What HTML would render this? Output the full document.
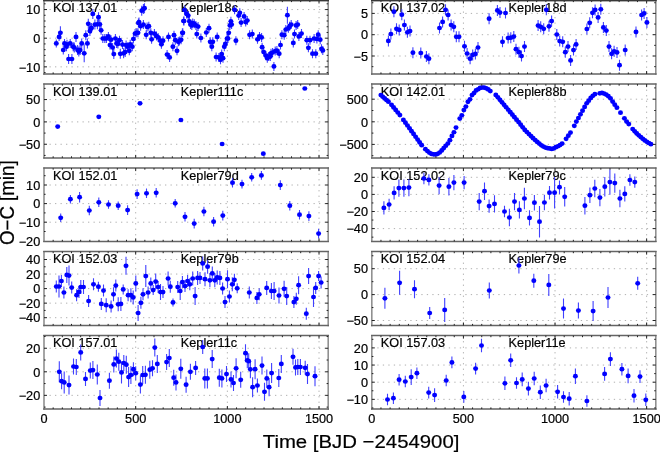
<!DOCTYPE html>
<html><head><meta charset="utf-8"><style>
html,body{margin:0;padding:0;background:#fff;}
body{width:660px;height:452px;overflow:hidden;}
svg{display:block;font-family:"Liberation Sans",sans-serif;fill:#000;}
text{stroke:#000;stroke-width:0.2px;}
svg{will-change:transform;}
</style></head><body>
<svg width="660" height="452" viewBox="0 0 660 452">
<rect width="660" height="452" fill="#fff"/>
<path d="M44 9.55H328.2 M44 38.2H328.2 M44 66.85H328.2 M135.68 0.5V74 M227.35 0.5V74 M319.03 0.5V74" stroke="#b0b0b0" stroke-width="1" stroke-dasharray="1.3 4.2" fill="none"/>
<text transform="translate(53,12.1) scale(1.06,1)" font-size="12" text-anchor="start">KOI 137.01</text>
<text transform="translate(180.8,12.1) scale(1.06,1)" font-size="12" text-anchor="start">Kepler18c</text>
<path d="M56.3 39.4V47.4 M59.1 32.9V40.9 M60.4 26.3V39.3 M63.3 45.5V54.5 M64.5 38.9V47.9 M66.5 42.2V51.2 M67 39.8V48.8 M68.6 54V64 M70.2 38.9V47.9 M71.9 54V64 M73.2 42.2V51.2 M74.3 42.5V52.5 M76 31.9V41.9 M77.6 45V55 M78.8 46.6V56.6 M80.1 45V55 M81.7 38.4V48.4 M84.2 44.3V62.3 M85.8 30.2V40.2 M87.4 38.4V48.4 M88.3 18.8V28.8 M89.9 26.1V36.1 M91.5 22.9V32.9 M92.8 8.9V18.9 M90.8 23.7V33.7 M94.9 19.6V29.6 M97.4 19.3V29.3 M98.5 12.2V22.2 M99.8 19.3V29.3 M101.1 25.8V34.8 M102.8 34V43 M104.8 34V43 M106.4 34V43 M108.4 31.9V40.9 M110 40.6V49.6 M111 35.2V44.2 M112.6 43V52 M113.8 49.1V59.1 M115.4 34V43 M116.6 38.9V47.9 M117.9 39.4V48.4 M119.5 35.7V44.7 M120.3 48.8V58.8 M122.5 40.1V49.1 M123.6 48.3V58.3 M125.2 47.1V57.1 M126.1 40.6V49.6 M127.7 42.2V51.2 M129.3 46.3V55.3 M130.2 39.8V48.8 M132.3 42.2V51.2 M133.4 34.5V43.5 M135.1 29.1V38.1 M136.7 28.3V37.3 M138.4 18.5V27.5 M138 28.3V37.3 M139 17.6V26.6 M140.6 21.7V30.7 M141.7 5.7V15.7 M143.4 4V14 M144.5 3.2V13.2 M143.4 20.1V29.1 M146.2 30.3V39.3 M147.1 22.5V31.5 M148.8 21.7V30.7 M150.8 28.3V37.3 M151.6 34.8V43.8 M154.4 29.1V38.1 M156.5 31.6V40.6 M158.1 32.9V41.9 M160.3 36.2V45.2 M161.4 39.8V48.8 M163 36.2V45.2 M167.1 50.1V59.1 M168.5 32.4V41.4 M169.6 52.9V61.9 M172.9 42.2V51.2 M174 30.7V39.7 M175.3 35.7V44.7 M177 46.3V55.3 M178.3 37.3V46.3 M179.4 36.5V45.5 M181.1 35.3V44.3 M182.4 28.3V37.3 M183.5 16.5V25.5 M184.5 5.5V14.5 M186.6 9.4V18.4 M188.2 11.1V20.1 M184 16.5V25.5 M182.8 28.3V37.3 M189.4 16.8V25.8 M190.5 20.1V29.1 M191.8 20.9V29.9 M192.7 18.5V27.5 M194.3 19.3V28.3 M195.9 20.9V29.9 M198.1 22.1V31.1 M196.8 29.6V38.6 M200.9 33.5V42.5 M206.3 28V37 M209 23.7V32.7 M210.2 37.3V46.3 M212.8 37.3V46.3 M211.8 42.2V51.2 M217.2 32.4V41.4 M216.1 52.5V61.5 M218.9 52.9V61.9 M220.5 55.3V64.3 M221.7 49.6V58.6 M223 53.7V62.7 M224.3 42.2V51.2 M225.4 39.4V48.4 M227.1 34V43 M228.7 28.3V37.3 M229.9 20.9V29.9 M230.9 16.8V25.8 M228 34V43 M231.6 20.1V29.1 M234.6 5.3V14.3 M235.9 36.2V45.2 M238.7 11.1V20.1 M239.8 8.3V17.3 M241.1 18.1V27.1 M244.1 11.9V20.9 M245.7 17.6V26.6 M247.3 16V25 M249.6 30.3V39.3 M252.3 29.6V38.6 M257.5 34.8V43.8 M259.5 31.9V40.9 M261.6 32.9V41.9 M262.1 42.7V51.7 M263.7 47.6V56.6 M266 51.2V60.2 M267.3 53.7V62.7 M268.7 52.1V61.1 M270.3 52.1V61.1 M271 48.8V57.8 M272.6 48V57 M273.9 61.9V70.9 M275.2 46.6V55.6 M276.9 46.1V55.1 M279.2 49.2V58.2 M280.5 40.5V49.5 M281.9 30.2V39.2 M284.2 30.7V39.7 M285.8 25V34 M287.4 6.7V23.7 M288.4 23.7V32.7 M289.6 21.7V30.7 M291.2 20.1V29.1 M293.3 38.4V47.4 M294.5 29.6V38.6 M296.1 20.9V29.9 M297.7 20.1V29.1 M298.9 31.9V40.9 M301.5 29.1V38.1 M306.8 35.7V44.7 M308.4 43.3V52.3 M310 35.7V44.7 M312.5 49.2V58.2 M314.1 34V43 M315.8 49.2V58.2 M316.9 34.5V43.5 M318.2 30.2V39.2 M320.2 35.2V44.2 M321.5 44.3V53.3 M322.8 45.9V54.9" stroke="#4040ff" stroke-width="1.1" fill="none"/>
<g fill="#0000ff"><ellipse cx="56.3" cy="43.4" rx="2.5" ry="2.35"/><ellipse cx="59.1" cy="36.9" rx="2.5" ry="2.35"/><ellipse cx="60.4" cy="32.8" rx="2.5" ry="2.35"/><ellipse cx="63.3" cy="50" rx="2.5" ry="2.35"/><ellipse cx="64.5" cy="43.4" rx="2.5" ry="2.35"/><ellipse cx="66.5" cy="46.7" rx="2.5" ry="2.35"/><ellipse cx="67" cy="44.3" rx="2.5" ry="2.35"/><ellipse cx="68.6" cy="59" rx="2.5" ry="2.35"/><ellipse cx="70.2" cy="43.4" rx="2.5" ry="2.35"/><ellipse cx="71.9" cy="59" rx="2.5" ry="2.35"/><ellipse cx="73.2" cy="46.7" rx="2.5" ry="2.35"/><ellipse cx="74.3" cy="47.5" rx="2.5" ry="2.35"/><ellipse cx="76" cy="36.9" rx="2.5" ry="2.35"/><ellipse cx="77.6" cy="50" rx="2.5" ry="2.35"/><ellipse cx="78.8" cy="51.6" rx="2.5" ry="2.35"/><ellipse cx="80.1" cy="50" rx="2.5" ry="2.35"/><ellipse cx="81.7" cy="43.4" rx="2.5" ry="2.35"/><ellipse cx="84.2" cy="53.3" rx="2.5" ry="2.35"/><ellipse cx="85.8" cy="35.2" rx="2.5" ry="2.35"/><ellipse cx="87.4" cy="43.4" rx="2.5" ry="2.35"/><ellipse cx="88.3" cy="23.8" rx="2.5" ry="2.35"/><ellipse cx="89.9" cy="31.1" rx="2.5" ry="2.35"/><ellipse cx="91.5" cy="27.9" rx="2.5" ry="2.35"/><ellipse cx="92.8" cy="13.9" rx="2.5" ry="2.35"/><ellipse cx="90.8" cy="28.7" rx="2.5" ry="2.35"/><ellipse cx="94.9" cy="24.6" rx="2.5" ry="2.35"/><ellipse cx="97.4" cy="24.3" rx="2.5" ry="2.35"/><ellipse cx="98.5" cy="17.2" rx="2.5" ry="2.35"/><ellipse cx="99.8" cy="24.3" rx="2.5" ry="2.35"/><ellipse cx="101.1" cy="30.3" rx="2.5" ry="2.35"/><ellipse cx="102.8" cy="38.5" rx="2.5" ry="2.35"/><ellipse cx="104.8" cy="38.5" rx="2.5" ry="2.35"/><ellipse cx="106.4" cy="38.5" rx="2.5" ry="2.35"/><ellipse cx="108.4" cy="36.4" rx="2.5" ry="2.35"/><ellipse cx="110" cy="45.1" rx="2.5" ry="2.35"/><ellipse cx="111" cy="39.7" rx="2.5" ry="2.35"/><ellipse cx="112.6" cy="47.5" rx="2.5" ry="2.35"/><ellipse cx="113.8" cy="54.1" rx="2.5" ry="2.35"/><ellipse cx="115.4" cy="38.5" rx="2.5" ry="2.35"/><ellipse cx="116.6" cy="43.4" rx="2.5" ry="2.35"/><ellipse cx="117.9" cy="43.9" rx="2.5" ry="2.35"/><ellipse cx="119.5" cy="40.2" rx="2.5" ry="2.35"/><ellipse cx="120.3" cy="53.8" rx="2.5" ry="2.35"/><ellipse cx="122.5" cy="44.6" rx="2.5" ry="2.35"/><ellipse cx="123.6" cy="53.3" rx="2.5" ry="2.35"/><ellipse cx="125.2" cy="52.1" rx="2.5" ry="2.35"/><ellipse cx="126.1" cy="45.1" rx="2.5" ry="2.35"/><ellipse cx="127.7" cy="46.7" rx="2.5" ry="2.35"/><ellipse cx="129.3" cy="50.8" rx="2.5" ry="2.35"/><ellipse cx="130.2" cy="44.3" rx="2.5" ry="2.35"/><ellipse cx="132.3" cy="46.7" rx="2.5" ry="2.35"/><ellipse cx="133.4" cy="39" rx="2.5" ry="2.35"/><ellipse cx="135.1" cy="33.6" rx="2.5" ry="2.35"/><ellipse cx="136.7" cy="32.8" rx="2.5" ry="2.35"/><ellipse cx="138.4" cy="23" rx="2.5" ry="2.35"/><ellipse cx="138" cy="32.8" rx="2.5" ry="2.35"/><ellipse cx="139" cy="22.1" rx="2.5" ry="2.35"/><ellipse cx="140.6" cy="26.2" rx="2.5" ry="2.35"/><ellipse cx="141.7" cy="10.7" rx="2.5" ry="2.35"/><ellipse cx="143.4" cy="9" rx="2.5" ry="2.35"/><ellipse cx="144.5" cy="8.2" rx="2.5" ry="2.35"/><ellipse cx="143.4" cy="24.6" rx="2.5" ry="2.35"/><ellipse cx="146.2" cy="34.8" rx="2.5" ry="2.35"/><ellipse cx="147.1" cy="27" rx="2.5" ry="2.35"/><ellipse cx="148.8" cy="26.2" rx="2.5" ry="2.35"/><ellipse cx="150.8" cy="32.8" rx="2.5" ry="2.35"/><ellipse cx="151.6" cy="39.3" rx="2.5" ry="2.35"/><ellipse cx="154.4" cy="33.6" rx="2.5" ry="2.35"/><ellipse cx="156.5" cy="36.1" rx="2.5" ry="2.35"/><ellipse cx="158.1" cy="37.4" rx="2.5" ry="2.35"/><ellipse cx="160.3" cy="40.7" rx="2.5" ry="2.35"/><ellipse cx="161.4" cy="44.3" rx="2.5" ry="2.35"/><ellipse cx="163" cy="40.7" rx="2.5" ry="2.35"/><ellipse cx="167.1" cy="54.6" rx="2.5" ry="2.35"/><ellipse cx="168.5" cy="36.9" rx="2.5" ry="2.35"/><ellipse cx="169.6" cy="57.4" rx="2.5" ry="2.35"/><ellipse cx="172.9" cy="46.7" rx="2.5" ry="2.35"/><ellipse cx="174" cy="35.2" rx="2.5" ry="2.35"/><ellipse cx="175.3" cy="40.2" rx="2.5" ry="2.35"/><ellipse cx="177" cy="50.8" rx="2.5" ry="2.35"/><ellipse cx="178.3" cy="41.8" rx="2.5" ry="2.35"/><ellipse cx="179.4" cy="41" rx="2.5" ry="2.35"/><ellipse cx="181.1" cy="39.8" rx="2.5" ry="2.35"/><ellipse cx="182.4" cy="32.8" rx="2.5" ry="2.35"/><ellipse cx="183.5" cy="21" rx="2.5" ry="2.35"/><ellipse cx="184.5" cy="10" rx="2.5" ry="2.35"/><ellipse cx="186.6" cy="13.9" rx="2.5" ry="2.35"/><ellipse cx="188.2" cy="15.6" rx="2.5" ry="2.35"/><ellipse cx="184" cy="21" rx="2.5" ry="2.35"/><ellipse cx="182.8" cy="32.8" rx="2.5" ry="2.35"/><ellipse cx="189.4" cy="21.3" rx="2.5" ry="2.35"/><ellipse cx="190.5" cy="24.6" rx="2.5" ry="2.35"/><ellipse cx="191.8" cy="25.4" rx="2.5" ry="2.35"/><ellipse cx="192.7" cy="23" rx="2.5" ry="2.35"/><ellipse cx="194.3" cy="23.8" rx="2.5" ry="2.35"/><ellipse cx="195.9" cy="25.4" rx="2.5" ry="2.35"/><ellipse cx="198.1" cy="26.6" rx="2.5" ry="2.35"/><ellipse cx="196.8" cy="34.1" rx="2.5" ry="2.35"/><ellipse cx="200.9" cy="38" rx="2.5" ry="2.35"/><ellipse cx="206.3" cy="32.5" rx="2.5" ry="2.35"/><ellipse cx="209" cy="28.2" rx="2.5" ry="2.35"/><ellipse cx="210.2" cy="41.8" rx="2.5" ry="2.35"/><ellipse cx="212.8" cy="41.8" rx="2.5" ry="2.35"/><ellipse cx="211.8" cy="46.7" rx="2.5" ry="2.35"/><ellipse cx="217.2" cy="36.9" rx="2.5" ry="2.35"/><ellipse cx="216.1" cy="57" rx="2.5" ry="2.35"/><ellipse cx="218.9" cy="57.4" rx="2.5" ry="2.35"/><ellipse cx="220.5" cy="59.8" rx="2.5" ry="2.35"/><ellipse cx="221.7" cy="54.1" rx="2.5" ry="2.35"/><ellipse cx="223" cy="58.2" rx="2.5" ry="2.35"/><ellipse cx="224.3" cy="46.7" rx="2.5" ry="2.35"/><ellipse cx="225.4" cy="43.9" rx="2.5" ry="2.35"/><ellipse cx="227.1" cy="38.5" rx="2.5" ry="2.35"/><ellipse cx="228.7" cy="32.8" rx="2.5" ry="2.35"/><ellipse cx="229.9" cy="25.4" rx="2.5" ry="2.35"/><ellipse cx="230.9" cy="21.3" rx="2.5" ry="2.35"/><ellipse cx="228" cy="38.5" rx="2.5" ry="2.35"/><ellipse cx="231.6" cy="24.6" rx="2.5" ry="2.35"/><ellipse cx="234.6" cy="9.8" rx="2.5" ry="2.35"/><ellipse cx="235.9" cy="40.7" rx="2.5" ry="2.35"/><ellipse cx="238.7" cy="15.6" rx="2.5" ry="2.35"/><ellipse cx="239.8" cy="12.8" rx="2.5" ry="2.35"/><ellipse cx="241.1" cy="22.6" rx="2.5" ry="2.35"/><ellipse cx="244.1" cy="16.4" rx="2.5" ry="2.35"/><ellipse cx="245.7" cy="22.1" rx="2.5" ry="2.35"/><ellipse cx="247.3" cy="20.5" rx="2.5" ry="2.35"/><ellipse cx="249.6" cy="34.8" rx="2.5" ry="2.35"/><ellipse cx="252.3" cy="34.1" rx="2.5" ry="2.35"/><ellipse cx="257.5" cy="39.3" rx="2.5" ry="2.35"/><ellipse cx="259.5" cy="36.4" rx="2.5" ry="2.35"/><ellipse cx="261.6" cy="37.4" rx="2.5" ry="2.35"/><ellipse cx="262.1" cy="47.2" rx="2.5" ry="2.35"/><ellipse cx="263.7" cy="52.1" rx="2.5" ry="2.35"/><ellipse cx="266" cy="55.7" rx="2.5" ry="2.35"/><ellipse cx="267.3" cy="58.2" rx="2.5" ry="2.35"/><ellipse cx="268.7" cy="56.6" rx="2.5" ry="2.35"/><ellipse cx="270.3" cy="56.6" rx="2.5" ry="2.35"/><ellipse cx="271" cy="53.3" rx="2.5" ry="2.35"/><ellipse cx="272.6" cy="52.5" rx="2.5" ry="2.35"/><ellipse cx="273.9" cy="66.4" rx="2.5" ry="2.35"/><ellipse cx="275.2" cy="51.1" rx="2.5" ry="2.35"/><ellipse cx="276.9" cy="50.6" rx="2.5" ry="2.35"/><ellipse cx="279.2" cy="53.7" rx="2.5" ry="2.35"/><ellipse cx="280.5" cy="45" rx="2.5" ry="2.35"/><ellipse cx="281.9" cy="34.7" rx="2.5" ry="2.35"/><ellipse cx="284.2" cy="35.2" rx="2.5" ry="2.35"/><ellipse cx="285.8" cy="29.5" rx="2.5" ry="2.35"/><ellipse cx="287.4" cy="15.2" rx="2.5" ry="2.35"/><ellipse cx="288.4" cy="28.2" rx="2.5" ry="2.35"/><ellipse cx="289.6" cy="26.2" rx="2.5" ry="2.35"/><ellipse cx="291.2" cy="24.6" rx="2.5" ry="2.35"/><ellipse cx="293.3" cy="42.9" rx="2.5" ry="2.35"/><ellipse cx="294.5" cy="34.1" rx="2.5" ry="2.35"/><ellipse cx="296.1" cy="25.4" rx="2.5" ry="2.35"/><ellipse cx="297.7" cy="24.6" rx="2.5" ry="2.35"/><ellipse cx="298.9" cy="36.4" rx="2.5" ry="2.35"/><ellipse cx="301.5" cy="33.6" rx="2.5" ry="2.35"/><ellipse cx="306.8" cy="40.2" rx="2.5" ry="2.35"/><ellipse cx="308.4" cy="47.8" rx="2.5" ry="2.35"/><ellipse cx="310" cy="40.2" rx="2.5" ry="2.35"/><ellipse cx="312.5" cy="53.7" rx="2.5" ry="2.35"/><ellipse cx="314.1" cy="38.5" rx="2.5" ry="2.35"/><ellipse cx="315.8" cy="53.7" rx="2.5" ry="2.35"/><ellipse cx="316.9" cy="39" rx="2.5" ry="2.35"/><ellipse cx="318.2" cy="34.7" rx="2.5" ry="2.35"/><ellipse cx="320.2" cy="39.7" rx="2.5" ry="2.35"/><ellipse cx="321.5" cy="48.8" rx="2.5" ry="2.35"/><ellipse cx="322.8" cy="50.4" rx="2.5" ry="2.35"/></g>
<path d="M44 -0.2V74.7M328.2 -0.2V74.7" stroke="#909090" stroke-width="1.6"/>
<path d="M43.2 0.5H329M43.2 74H329" stroke="#646464" stroke-width="1.5"/>
<path d="M44 72.58h1.6M328.2 72.58h-1.6 M44 66.85h3.0M328.2 66.85h-3.0 M44 61.12h1.6M328.2 61.12h-1.6 M44 55.39h1.6M328.2 55.39h-1.6 M44 49.66h1.6M328.2 49.66h-1.6 M44 43.93h1.6M328.2 43.93h-1.6 M44 38.2h3.0M328.2 38.2h-3.0 M44 32.47h1.6M328.2 32.47h-1.6 M44 26.74h1.6M328.2 26.74h-1.6 M44 21.01h1.6M328.2 21.01h-1.6 M44 15.28h1.6M328.2 15.28h-1.6 M44 9.55h3.0M328.2 9.55h-3.0 M44 3.82h1.6M328.2 3.82h-1.6 M53.17 74v-1.6M53.17 0.5v1.6 M62.34 74v-1.6M62.34 0.5v1.6 M71.5 74v-1.6M71.5 0.5v1.6 M80.67 74v-1.6M80.67 0.5v1.6 M89.84 74v-1.6M89.84 0.5v1.6 M99.01 74v-1.6M99.01 0.5v1.6 M108.17 74v-1.6M108.17 0.5v1.6 M117.34 74v-1.6M117.34 0.5v1.6 M126.51 74v-1.6M126.51 0.5v1.6 M135.68 74v-3.0M135.68 0.5v3.0 M144.85 74v-1.6M144.85 0.5v1.6 M154.01 74v-1.6M154.01 0.5v1.6 M163.18 74v-1.6M163.18 0.5v1.6 M172.35 74v-1.6M172.35 0.5v1.6 M181.52 74v-1.6M181.52 0.5v1.6 M190.68 74v-1.6M190.68 0.5v1.6 M199.85 74v-1.6M199.85 0.5v1.6 M209.02 74v-1.6M209.02 0.5v1.6 M218.19 74v-1.6M218.19 0.5v1.6 M227.35 74v-3.0M227.35 0.5v3.0 M236.52 74v-1.6M236.52 0.5v1.6 M245.69 74v-1.6M245.69 0.5v1.6 M254.86 74v-1.6M254.86 0.5v1.6 M264.03 74v-1.6M264.03 0.5v1.6 M273.19 74v-1.6M273.19 0.5v1.6 M282.36 74v-1.6M282.36 0.5v1.6 M291.53 74v-1.6M291.53 0.5v1.6 M300.7 74v-1.6M300.7 0.5v1.6 M309.86 74v-1.6M309.86 0.5v1.6 M319.03 74v-3.0M319.03 0.5v3.0" stroke="#222" stroke-width="1" fill="none"/>
<path d="M43.2 0.5H329" stroke="#383838" stroke-width="1.3"/>
<text transform="translate(40.2,14.25) scale(1.06,1)" font-size="12" text-anchor="end">10</text>
<text transform="translate(40.2,42.9) scale(1.06,1)" font-size="12" text-anchor="end">0</text>
<text transform="translate(40.2,71.55) scale(1.06,1)" font-size="12" text-anchor="end">−10</text>
<path d="M44 99.55H328.2 M44 121.9H328.2 M44 144.25H328.2 M135.68 84.1V157.9 M227.35 84.1V157.9 M319.03 84.1V157.9" stroke="#b0b0b0" stroke-width="1" stroke-dasharray="1.3 4.2" fill="none"/>
<text transform="translate(53,95.7) scale(1.06,1)" font-size="12" text-anchor="start">KOI 139.01</text>
<text transform="translate(180.8,95.7) scale(1.06,1)" font-size="12" text-anchor="start">Kepler111c</text>
<g fill="#0000ff"><ellipse cx="57.7" cy="126.6" rx="2.5" ry="2.35"/><ellipse cx="98.8" cy="116.8" rx="2.5" ry="2.35"/><ellipse cx="140" cy="103.3" rx="2.5" ry="2.35"/><ellipse cx="180.9" cy="120" rx="2.5" ry="2.35"/><ellipse cx="222.1" cy="144" rx="2.5" ry="2.35"/><ellipse cx="263.3" cy="153.7" rx="2.5" ry="2.35"/><ellipse cx="304.8" cy="88.5" rx="2.5" ry="2.35"/></g>
<path d="M44 83.4V158.6M328.2 83.4V158.6" stroke="#909090" stroke-width="1.6"/>
<path d="M43.2 84.1H329M43.2 157.9H329" stroke="#646464" stroke-width="1.5"/>
<path d="M44 155.43h1.6M328.2 155.43h-1.6 M44 144.25h3.0M328.2 144.25h-3.0 M44 133.08h1.6M328.2 133.08h-1.6 M44 121.9h3.0M328.2 121.9h-3.0 M44 110.73h1.6M328.2 110.73h-1.6 M44 99.55h3.0M328.2 99.55h-3.0 M44 88.38h1.6M328.2 88.38h-1.6 M53.17 157.9v-1.6M53.17 84.1v1.6 M62.34 157.9v-1.6M62.34 84.1v1.6 M71.5 157.9v-1.6M71.5 84.1v1.6 M80.67 157.9v-1.6M80.67 84.1v1.6 M89.84 157.9v-1.6M89.84 84.1v1.6 M99.01 157.9v-1.6M99.01 84.1v1.6 M108.17 157.9v-1.6M108.17 84.1v1.6 M117.34 157.9v-1.6M117.34 84.1v1.6 M126.51 157.9v-1.6M126.51 84.1v1.6 M135.68 157.9v-3.0M135.68 84.1v3.0 M144.85 157.9v-1.6M144.85 84.1v1.6 M154.01 157.9v-1.6M154.01 84.1v1.6 M163.18 157.9v-1.6M163.18 84.1v1.6 M172.35 157.9v-1.6M172.35 84.1v1.6 M181.52 157.9v-1.6M181.52 84.1v1.6 M190.68 157.9v-1.6M190.68 84.1v1.6 M199.85 157.9v-1.6M199.85 84.1v1.6 M209.02 157.9v-1.6M209.02 84.1v1.6 M218.19 157.9v-1.6M218.19 84.1v1.6 M227.35 157.9v-3.0M227.35 84.1v3.0 M236.52 157.9v-1.6M236.52 84.1v1.6 M245.69 157.9v-1.6M245.69 84.1v1.6 M254.86 157.9v-1.6M254.86 84.1v1.6 M264.03 157.9v-1.6M264.03 84.1v1.6 M273.19 157.9v-1.6M273.19 84.1v1.6 M282.36 157.9v-1.6M282.36 84.1v1.6 M291.53 157.9v-1.6M291.53 84.1v1.6 M300.7 157.9v-1.6M300.7 84.1v1.6 M309.86 157.9v-1.6M309.86 84.1v1.6 M319.03 157.9v-3.0M319.03 84.1v3.0" stroke="#222" stroke-width="1" fill="none"/>
<text transform="translate(40.2,104.25) scale(1.06,1)" font-size="12" text-anchor="end">50</text>
<text transform="translate(40.2,126.6) scale(1.06,1)" font-size="12" text-anchor="end">0</text>
<text transform="translate(40.2,148.95) scale(1.06,1)" font-size="12" text-anchor="end">−50</text>
<path d="M44 185H328.2 M44 203.6H328.2 M44 222.2H328.2 M135.68 168.1V241.4 M227.35 168.1V241.4 M319.03 168.1V241.4" stroke="#b0b0b0" stroke-width="1" stroke-dasharray="1.3 4.2" fill="none"/>
<text transform="translate(53,179.7) scale(1.06,1)" font-size="12" text-anchor="start">KOI 152.01</text>
<text transform="translate(180.8,179.7) scale(1.06,1)" font-size="12" text-anchor="start">Kepler79d</text>
<path d="M60.7 213.5V222.1 M70.4 194.9V203.5 M79.6 191.9V202.5 M89.3 205.7V215.3 M98.8 197.5V207.1 M108.5 200.2V208.8 M118.2 201.4V210 M127.6 205.3V214.9 M137.1 189.3V198.9 M146.5 188.5V198.1 M156.2 188V197.6 M175.2 199V207.6 M185 212V221.6 M194.2 218.8V228.4 M203.9 206.7V216.3 M213.6 216.9V226.5 M222.8 210.8V220.4 M232.5 177.9V187.5 M242 179.8V188.4 M251.7 173V181.6 M261.4 171.1V179.7 M280.3 180.3V189.9 M289.8 200.9V210.5 M299.5 209.9V219.5 M308.9 211.3V220.9 M318.6 228.8V238.4" stroke="#4040ff" stroke-width="1.1" fill="none"/>
<g fill="#0000ff"><ellipse cx="60.7" cy="217.8" rx="2.5" ry="2.35"/><ellipse cx="70.4" cy="199.2" rx="2.5" ry="2.35"/><ellipse cx="79.6" cy="197.2" rx="2.5" ry="2.35"/><ellipse cx="89.3" cy="210.5" rx="2.5" ry="2.35"/><ellipse cx="98.8" cy="202.3" rx="2.5" ry="2.35"/><ellipse cx="108.5" cy="204.5" rx="2.5" ry="2.35"/><ellipse cx="118.2" cy="205.7" rx="2.5" ry="2.35"/><ellipse cx="127.6" cy="210.1" rx="2.5" ry="2.35"/><ellipse cx="137.1" cy="194.1" rx="2.5" ry="2.35"/><ellipse cx="146.5" cy="193.3" rx="2.5" ry="2.35"/><ellipse cx="156.2" cy="192.8" rx="2.5" ry="2.35"/><ellipse cx="175.2" cy="203.3" rx="2.5" ry="2.35"/><ellipse cx="185" cy="216.8" rx="2.5" ry="2.35"/><ellipse cx="194.2" cy="223.6" rx="2.5" ry="2.35"/><ellipse cx="203.9" cy="211.5" rx="2.5" ry="2.35"/><ellipse cx="213.6" cy="221.7" rx="2.5" ry="2.35"/><ellipse cx="222.8" cy="215.6" rx="2.5" ry="2.35"/><ellipse cx="232.5" cy="182.7" rx="2.5" ry="2.35"/><ellipse cx="242" cy="184.1" rx="2.5" ry="2.35"/><ellipse cx="251.7" cy="177.3" rx="2.5" ry="2.35"/><ellipse cx="261.4" cy="175.4" rx="2.5" ry="2.35"/><ellipse cx="280.3" cy="185.1" rx="2.5" ry="2.35"/><ellipse cx="289.8" cy="205.7" rx="2.5" ry="2.35"/><ellipse cx="299.5" cy="214.7" rx="2.5" ry="2.35"/><ellipse cx="308.9" cy="216.1" rx="2.5" ry="2.35"/><ellipse cx="318.6" cy="233.6" rx="2.5" ry="2.35"/></g>
<path d="M44 167.4V242.1M328.2 167.4V242.1" stroke="#909090" stroke-width="1.6"/>
<path d="M43.2 168.1H329M43.2 241.4H329" stroke="#646464" stroke-width="1.5"/>
<path d="M44 231.5h1.6M328.2 231.5h-1.6 M44 222.2h3.0M328.2 222.2h-3.0 M44 212.9h1.6M328.2 212.9h-1.6 M44 203.6h3.0M328.2 203.6h-3.0 M44 194.3h1.6M328.2 194.3h-1.6 M44 185h3.0M328.2 185h-3.0 M44 175.7h1.6M328.2 175.7h-1.6 M53.17 241.4v-1.6M53.17 168.1v1.6 M62.34 241.4v-1.6M62.34 168.1v1.6 M71.5 241.4v-1.6M71.5 168.1v1.6 M80.67 241.4v-1.6M80.67 168.1v1.6 M89.84 241.4v-1.6M89.84 168.1v1.6 M99.01 241.4v-1.6M99.01 168.1v1.6 M108.17 241.4v-1.6M108.17 168.1v1.6 M117.34 241.4v-1.6M117.34 168.1v1.6 M126.51 241.4v-1.6M126.51 168.1v1.6 M135.68 241.4v-3.0M135.68 168.1v3.0 M144.85 241.4v-1.6M144.85 168.1v1.6 M154.01 241.4v-1.6M154.01 168.1v1.6 M163.18 241.4v-1.6M163.18 168.1v1.6 M172.35 241.4v-1.6M172.35 168.1v1.6 M181.52 241.4v-1.6M181.52 168.1v1.6 M190.68 241.4v-1.6M190.68 168.1v1.6 M199.85 241.4v-1.6M199.85 168.1v1.6 M209.02 241.4v-1.6M209.02 168.1v1.6 M218.19 241.4v-1.6M218.19 168.1v1.6 M227.35 241.4v-3.0M227.35 168.1v3.0 M236.52 241.4v-1.6M236.52 168.1v1.6 M245.69 241.4v-1.6M245.69 168.1v1.6 M254.86 241.4v-1.6M254.86 168.1v1.6 M264.03 241.4v-1.6M264.03 168.1v1.6 M273.19 241.4v-1.6M273.19 168.1v1.6 M282.36 241.4v-1.6M282.36 168.1v1.6 M291.53 241.4v-1.6M291.53 168.1v1.6 M300.7 241.4v-1.6M300.7 168.1v1.6 M309.86 241.4v-1.6M309.86 168.1v1.6 M319.03 241.4v-3.0M319.03 168.1v3.0" stroke="#222" stroke-width="1" fill="none"/>
<text transform="translate(40.2,189.7) scale(1.06,1)" font-size="12" text-anchor="end">10</text>
<text transform="translate(40.2,208.3) scale(1.06,1)" font-size="12" text-anchor="end">0</text>
<text transform="translate(40.2,226.9) scale(1.06,1)" font-size="12" text-anchor="end">−10</text>
<text transform="translate(40.2,245.5) scale(1.06,1)" font-size="12" text-anchor="end">−20</text>
<path d="M44 259.5H328.2 M44 274.05H328.2 M44 288.6H328.2 M44 303.15H328.2 M44 317.7H328.2 M135.68 251.6V325.5 M227.35 251.6V325.5 M319.03 251.6V325.5" stroke="#b0b0b0" stroke-width="1" stroke-dasharray="1.3 4.2" fill="none"/>
<text transform="translate(53,263.2) scale(1.06,1)" font-size="12" text-anchor="start">KOI 152.03</text>
<text transform="translate(180.8,263.2) scale(1.06,1)" font-size="12" text-anchor="start">Kepler79b</text>
<path d="M56.3 280.5V292.5 M59 275.5V297.5 M61.4 275V287 M63.9 286.5V298.5 M66.8 266.9V282.9 M69 265.6V285.6 M71.7 281.6V293.6 M76.6 289.2V301.2 M79 285.9V297.9 M80.8 280V294 M83.5 280V294 M88.6 295V307 M93.5 278.3V290.3 M98.4 281.7V291.7 M101.3 297.9V309.9 M103.5 284.6V296.6 M106.2 298.2V312.2 M111.1 300.4V312.4 M113.5 287.3V301.3 M115.8 279.6V291.6 M118.2 297.3V311.3 M120.9 296.9V310.9 M123.2 284.4V294.4 M126 256.8V274.8 M128.1 289.2V301.2 M130.9 288.2V302.2 M133.2 290.4V304.4 M135.8 275.4V291.4 M138.1 305V321 M140.9 296.8V308.8 M143 288.3V300.3 M145.8 265.1V287.1 M148.1 286.5V298.5 M150.8 277.4V289.4 M153.2 285.1V295.1 M155.7 273.6V289.6 M158.1 281V293 M160.5 284.1V300.1 M163 286.1V298.1 M168.1 271.5V285.5 M170.3 280.7V292.7 M173 298.4V306.4 M177.7 281V293 M180.2 282V300 M182.4 276.1V288.1 M185 280.1V292.1 M187.6 275V287 M189.8 278.3V290.3 M192.7 271.5V285.5 M195.1 287.1V305.1 M197.6 270.9V284.9 M200 271.9V283.9 M202.7 256.4V270.4 M205 272.2V286.2 M207.6 259.7V273.7 M209.9 273.3V287.3 M212.3 266.4V280.4 M214.8 273.3V287.3 M217.2 270.4V284.4 M219.9 270.9V284.9 M222.6 282.5V294.5 M225 296.1V308.1 M227.5 270.2V288.2 M229.4 290.5V302.5 M232.3 277.3V291.3 M234.4 273.8V285.8 M237.2 283.3V293.3 M249.3 286.5V298.5 M256.9 291.9V303.9 M259.2 288.3V300.3 M266.7 280.9V294.9 M271.4 283V299 M274.1 282V300 M279 287.5V303.5 M284.1 280.8V296.8 M286.7 287.1V305.1 M293.9 296.1V308.1 M296.3 292.8V304.8 M298.6 276.2V294.2 M306.3 307.7V319.7 M308.6 268.1V284.1 M313.5 287V307 M315.7 281.9V293.9 M318.6 271.1V281.1 M321.1 276.5V288.5" stroke="#4040ff" stroke-width="1.1" fill="none"/>
<g fill="#0000ff"><ellipse cx="56.3" cy="286.5" rx="2.5" ry="2.35"/><ellipse cx="59" cy="286.5" rx="2.5" ry="2.35"/><ellipse cx="61.4" cy="281" rx="2.5" ry="2.35"/><ellipse cx="63.9" cy="292.5" rx="2.5" ry="2.35"/><ellipse cx="66.8" cy="274.9" rx="2.5" ry="2.35"/><ellipse cx="69" cy="275.6" rx="2.5" ry="2.35"/><ellipse cx="71.7" cy="287.6" rx="2.5" ry="2.35"/><ellipse cx="76.6" cy="295.2" rx="2.5" ry="2.35"/><ellipse cx="79" cy="291.9" rx="2.5" ry="2.35"/><ellipse cx="80.8" cy="287" rx="2.5" ry="2.35"/><ellipse cx="83.5" cy="287" rx="2.5" ry="2.35"/><ellipse cx="88.6" cy="301" rx="2.5" ry="2.35"/><ellipse cx="93.5" cy="284.3" rx="2.5" ry="2.35"/><ellipse cx="98.4" cy="286.7" rx="2.5" ry="2.35"/><ellipse cx="101.3" cy="303.9" rx="2.5" ry="2.35"/><ellipse cx="103.5" cy="290.6" rx="2.5" ry="2.35"/><ellipse cx="106.2" cy="305.2" rx="2.5" ry="2.35"/><ellipse cx="111.1" cy="306.4" rx="2.5" ry="2.35"/><ellipse cx="113.5" cy="294.3" rx="2.5" ry="2.35"/><ellipse cx="115.8" cy="285.6" rx="2.5" ry="2.35"/><ellipse cx="118.2" cy="304.3" rx="2.5" ry="2.35"/><ellipse cx="120.9" cy="303.9" rx="2.5" ry="2.35"/><ellipse cx="123.2" cy="289.4" rx="2.5" ry="2.35"/><ellipse cx="126" cy="265.8" rx="2.5" ry="2.35"/><ellipse cx="128.1" cy="295.2" rx="2.5" ry="2.35"/><ellipse cx="130.9" cy="295.2" rx="2.5" ry="2.35"/><ellipse cx="133.2" cy="297.4" rx="2.5" ry="2.35"/><ellipse cx="135.8" cy="283.4" rx="2.5" ry="2.35"/><ellipse cx="138.1" cy="313" rx="2.5" ry="2.35"/><ellipse cx="140.9" cy="302.8" rx="2.5" ry="2.35"/><ellipse cx="143" cy="294.3" rx="2.5" ry="2.35"/><ellipse cx="145.8" cy="276.1" rx="2.5" ry="2.35"/><ellipse cx="148.1" cy="292.5" rx="2.5" ry="2.35"/><ellipse cx="150.8" cy="283.4" rx="2.5" ry="2.35"/><ellipse cx="153.2" cy="290.1" rx="2.5" ry="2.35"/><ellipse cx="155.7" cy="281.6" rx="2.5" ry="2.35"/><ellipse cx="158.1" cy="287" rx="2.5" ry="2.35"/><ellipse cx="160.5" cy="292.1" rx="2.5" ry="2.35"/><ellipse cx="163" cy="292.1" rx="2.5" ry="2.35"/><ellipse cx="168.1" cy="278.5" rx="2.5" ry="2.35"/><ellipse cx="170.3" cy="286.7" rx="2.5" ry="2.35"/><ellipse cx="173" cy="302.4" rx="2.5" ry="2.35"/><ellipse cx="177.7" cy="287" rx="2.5" ry="2.35"/><ellipse cx="180.2" cy="291" rx="2.5" ry="2.35"/><ellipse cx="182.4" cy="282.1" rx="2.5" ry="2.35"/><ellipse cx="185" cy="286.1" rx="2.5" ry="2.35"/><ellipse cx="187.6" cy="281" rx="2.5" ry="2.35"/><ellipse cx="189.8" cy="284.3" rx="2.5" ry="2.35"/><ellipse cx="192.7" cy="278.5" rx="2.5" ry="2.35"/><ellipse cx="195.1" cy="296.1" rx="2.5" ry="2.35"/><ellipse cx="197.6" cy="277.9" rx="2.5" ry="2.35"/><ellipse cx="200" cy="277.9" rx="2.5" ry="2.35"/><ellipse cx="202.7" cy="263.4" rx="2.5" ry="2.35"/><ellipse cx="205" cy="279.2" rx="2.5" ry="2.35"/><ellipse cx="207.6" cy="266.7" rx="2.5" ry="2.35"/><ellipse cx="209.9" cy="280.3" rx="2.5" ry="2.35"/><ellipse cx="212.3" cy="273.4" rx="2.5" ry="2.35"/><ellipse cx="214.8" cy="280.3" rx="2.5" ry="2.35"/><ellipse cx="217.2" cy="277.4" rx="2.5" ry="2.35"/><ellipse cx="219.9" cy="277.9" rx="2.5" ry="2.35"/><ellipse cx="222.6" cy="288.5" rx="2.5" ry="2.35"/><ellipse cx="225" cy="302.1" rx="2.5" ry="2.35"/><ellipse cx="227.5" cy="279.2" rx="2.5" ry="2.35"/><ellipse cx="229.4" cy="296.5" rx="2.5" ry="2.35"/><ellipse cx="232.3" cy="284.3" rx="2.5" ry="2.35"/><ellipse cx="234.4" cy="279.8" rx="2.5" ry="2.35"/><ellipse cx="237.2" cy="288.3" rx="2.5" ry="2.35"/><ellipse cx="249.3" cy="292.5" rx="2.5" ry="2.35"/><ellipse cx="256.9" cy="297.9" rx="2.5" ry="2.35"/><ellipse cx="259.2" cy="294.3" rx="2.5" ry="2.35"/><ellipse cx="266.7" cy="287.9" rx="2.5" ry="2.35"/><ellipse cx="271.4" cy="291" rx="2.5" ry="2.35"/><ellipse cx="274.1" cy="291" rx="2.5" ry="2.35"/><ellipse cx="279" cy="295.5" rx="2.5" ry="2.35"/><ellipse cx="284.1" cy="288.8" rx="2.5" ry="2.35"/><ellipse cx="286.7" cy="296.1" rx="2.5" ry="2.35"/><ellipse cx="293.9" cy="302.1" rx="2.5" ry="2.35"/><ellipse cx="296.3" cy="298.8" rx="2.5" ry="2.35"/><ellipse cx="298.6" cy="285.2" rx="2.5" ry="2.35"/><ellipse cx="306.3" cy="313.7" rx="2.5" ry="2.35"/><ellipse cx="308.6" cy="276.1" rx="2.5" ry="2.35"/><ellipse cx="313.5" cy="297" rx="2.5" ry="2.35"/><ellipse cx="315.7" cy="287.9" rx="2.5" ry="2.35"/><ellipse cx="318.6" cy="276.1" rx="2.5" ry="2.35"/><ellipse cx="321.1" cy="282.5" rx="2.5" ry="2.35"/></g>
<path d="M44 250.9V326.2M328.2 250.9V326.2" stroke="#909090" stroke-width="1.6"/>
<path d="M43.2 251.6H329M43.2 325.5H329" stroke="#646464" stroke-width="1.5"/>
<path d="M44 317.7h3.0M328.2 317.7h-3.0 M44 310.43h1.6M328.2 310.43h-1.6 M44 303.15h3.0M328.2 303.15h-3.0 M44 295.88h1.6M328.2 295.88h-1.6 M44 288.6h3.0M328.2 288.6h-3.0 M44 281.33h1.6M328.2 281.33h-1.6 M44 274.05h3.0M328.2 274.05h-3.0 M44 266.78h1.6M328.2 266.78h-1.6 M44 259.5h3.0M328.2 259.5h-3.0 M53.17 325.5v-1.6M53.17 251.6v1.6 M62.34 325.5v-1.6M62.34 251.6v1.6 M71.5 325.5v-1.6M71.5 251.6v1.6 M80.67 325.5v-1.6M80.67 251.6v1.6 M89.84 325.5v-1.6M89.84 251.6v1.6 M99.01 325.5v-1.6M99.01 251.6v1.6 M108.17 325.5v-1.6M108.17 251.6v1.6 M117.34 325.5v-1.6M117.34 251.6v1.6 M126.51 325.5v-1.6M126.51 251.6v1.6 M135.68 325.5v-3.0M135.68 251.6v3.0 M144.85 325.5v-1.6M144.85 251.6v1.6 M154.01 325.5v-1.6M154.01 251.6v1.6 M163.18 325.5v-1.6M163.18 251.6v1.6 M172.35 325.5v-1.6M172.35 251.6v1.6 M181.52 325.5v-1.6M181.52 251.6v1.6 M190.68 325.5v-1.6M190.68 251.6v1.6 M199.85 325.5v-1.6M199.85 251.6v1.6 M209.02 325.5v-1.6M209.02 251.6v1.6 M218.19 325.5v-1.6M218.19 251.6v1.6 M227.35 325.5v-3.0M227.35 251.6v3.0 M236.52 325.5v-1.6M236.52 251.6v1.6 M245.69 325.5v-1.6M245.69 251.6v1.6 M254.86 325.5v-1.6M254.86 251.6v1.6 M264.03 325.5v-1.6M264.03 251.6v1.6 M273.19 325.5v-1.6M273.19 251.6v1.6 M282.36 325.5v-1.6M282.36 251.6v1.6 M291.53 325.5v-1.6M291.53 251.6v1.6 M300.7 325.5v-1.6M300.7 251.6v1.6 M309.86 325.5v-1.6M309.86 251.6v1.6 M319.03 325.5v-3.0M319.03 251.6v3.0" stroke="#222" stroke-width="1" fill="none"/>
<text transform="translate(40.2,264.2) scale(1.06,1)" font-size="12" text-anchor="end">40</text>
<text transform="translate(40.2,278.75) scale(1.06,1)" font-size="12" text-anchor="end">20</text>
<text transform="translate(40.2,293.3) scale(1.06,1)" font-size="12" text-anchor="end">0</text>
<text transform="translate(40.2,307.85) scale(1.06,1)" font-size="12" text-anchor="end">−20</text>
<text transform="translate(40.2,322.4) scale(1.06,1)" font-size="12" text-anchor="end">−40</text>
<path d="M44 348.25H328.2 M44 371.8H328.2 M44 395.35H328.2 M135.68 335.6V409 M227.35 335.6V409 M319.03 335.6V409" stroke="#b0b0b0" stroke-width="1" stroke-dasharray="1.3 4.2" fill="none"/>
<text transform="translate(53,347.2) scale(1.06,1)" font-size="12" text-anchor="start">KOI 157.01</text>
<text transform="translate(180.8,347.2) scale(1.06,1)" font-size="12" text-anchor="start">Kepler11c</text>
<path d="M59.3 361.3V382.3 M61.6 373.2V389.2 M64.2 371.4V393.4 M69 375.6V394.6 M73.5 358.5V374.5 M76.3 359V375 M80.7 344.4V360.4 M85.5 371.9V385.9 M90.3 362.6V378.6 M92.9 361.1V379.1 M97.3 364.5V384.5 M100 390V406 M109.4 372.7V388.7 M113.8 356.4V372.4 M116.4 349.5V367.5 M118.8 352.7V370.7 M121.5 361.4V383.4 M123.8 355V371 M126.3 355.7V373.7 M128.6 367.1V387.1 M130.9 366V384 M133.4 362.2V376.2 M135.7 366.2V380.2 M140.4 375.6V393.6 M142.7 366V384 M145.4 365.8V383.8 M149.8 360.7V378.7 M152.5 360.3V376.3 M154.8 338.6V356.6 M157.3 354.9V372.9 M166.6 354.1V370.1 M169.3 349V367 M173.7 369.7V385.7 M176 374.4V390.4 M180.8 358.8V378.8 M186.1 376.7V392.7 M190.4 363.8V379.8 M195.6 360.9V374.9 M202.7 340V354 M204.8 368.4V388.4 M207.4 368.4V388.4 M212.2 350.1V368.1 M219.3 368.7V386.7 M221.9 369.4V387.4 M226.5 366.1V382.1 M231 371.4V387.4 M233.5 375V391 M236.1 358.3V378.3 M240.7 371.8V387.8 M245.5 344.2V362.2 M247.3 352.3V368.3 M248.7 353.2V369.2 M250.4 360.3V378.3 M252.6 377.2V397.2 M255.1 359.2V379.2 M257.4 378.5V392.5 M262 356.6V374.6 M264.5 382.8V400.8 M266.8 369.4V387.4 M269.1 378.2V396.2 M271.6 363.1V383.1 M278.8 369V387 M281.3 354.9V372.9 M293 348.8V364.8 M295.5 359.4V375.4 M297.8 359V375 M300.4 359V375 M305.2 360.8V374.8 M307.5 364.1V384.1 M315 366.2V386.2" stroke="#4040ff" stroke-width="1.1" fill="none"/>
<g fill="#0000ff"><ellipse cx="59.3" cy="371.8" rx="2.5" ry="2.35"/><ellipse cx="61.6" cy="381.2" rx="2.5" ry="2.35"/><ellipse cx="64.2" cy="382.4" rx="2.5" ry="2.35"/><ellipse cx="69" cy="385.1" rx="2.5" ry="2.35"/><ellipse cx="73.5" cy="366.5" rx="2.5" ry="2.35"/><ellipse cx="76.3" cy="367" rx="2.5" ry="2.35"/><ellipse cx="80.7" cy="352.4" rx="2.5" ry="2.35"/><ellipse cx="85.5" cy="378.9" rx="2.5" ry="2.35"/><ellipse cx="90.3" cy="370.6" rx="2.5" ry="2.35"/><ellipse cx="92.9" cy="370.1" rx="2.5" ry="2.35"/><ellipse cx="97.3" cy="374.5" rx="2.5" ry="2.35"/><ellipse cx="100" cy="398" rx="2.5" ry="2.35"/><ellipse cx="109.4" cy="380.7" rx="2.5" ry="2.35"/><ellipse cx="113.8" cy="364.4" rx="2.5" ry="2.35"/><ellipse cx="116.4" cy="358.5" rx="2.5" ry="2.35"/><ellipse cx="118.8" cy="361.7" rx="2.5" ry="2.35"/><ellipse cx="121.5" cy="372.4" rx="2.5" ry="2.35"/><ellipse cx="123.8" cy="363" rx="2.5" ry="2.35"/><ellipse cx="126.3" cy="364.7" rx="2.5" ry="2.35"/><ellipse cx="128.6" cy="377.1" rx="2.5" ry="2.35"/><ellipse cx="130.9" cy="375" rx="2.5" ry="2.35"/><ellipse cx="133.4" cy="369.2" rx="2.5" ry="2.35"/><ellipse cx="135.7" cy="373.2" rx="2.5" ry="2.35"/><ellipse cx="140.4" cy="384.6" rx="2.5" ry="2.35"/><ellipse cx="142.7" cy="375" rx="2.5" ry="2.35"/><ellipse cx="145.4" cy="374.8" rx="2.5" ry="2.35"/><ellipse cx="149.8" cy="369.7" rx="2.5" ry="2.35"/><ellipse cx="152.5" cy="368.3" rx="2.5" ry="2.35"/><ellipse cx="154.8" cy="347.6" rx="2.5" ry="2.35"/><ellipse cx="157.3" cy="363.9" rx="2.5" ry="2.35"/><ellipse cx="166.6" cy="362.1" rx="2.5" ry="2.35"/><ellipse cx="169.3" cy="358" rx="2.5" ry="2.35"/><ellipse cx="173.7" cy="377.7" rx="2.5" ry="2.35"/><ellipse cx="176" cy="382.4" rx="2.5" ry="2.35"/><ellipse cx="180.8" cy="368.8" rx="2.5" ry="2.35"/><ellipse cx="186.1" cy="384.7" rx="2.5" ry="2.35"/><ellipse cx="190.4" cy="371.8" rx="2.5" ry="2.35"/><ellipse cx="195.6" cy="367.9" rx="2.5" ry="2.35"/><ellipse cx="202.7" cy="347" rx="2.5" ry="2.35"/><ellipse cx="204.8" cy="378.4" rx="2.5" ry="2.35"/><ellipse cx="207.4" cy="378.4" rx="2.5" ry="2.35"/><ellipse cx="212.2" cy="359.1" rx="2.5" ry="2.35"/><ellipse cx="219.3" cy="377.7" rx="2.5" ry="2.35"/><ellipse cx="221.9" cy="378.4" rx="2.5" ry="2.35"/><ellipse cx="226.5" cy="374.1" rx="2.5" ry="2.35"/><ellipse cx="231" cy="379.4" rx="2.5" ry="2.35"/><ellipse cx="233.5" cy="383" rx="2.5" ry="2.35"/><ellipse cx="236.1" cy="368.3" rx="2.5" ry="2.35"/><ellipse cx="240.7" cy="379.8" rx="2.5" ry="2.35"/><ellipse cx="245.5" cy="353.2" rx="2.5" ry="2.35"/><ellipse cx="247.3" cy="360.3" rx="2.5" ry="2.35"/><ellipse cx="248.7" cy="361.2" rx="2.5" ry="2.35"/><ellipse cx="250.4" cy="369.3" rx="2.5" ry="2.35"/><ellipse cx="252.6" cy="387.2" rx="2.5" ry="2.35"/><ellipse cx="255.1" cy="369.2" rx="2.5" ry="2.35"/><ellipse cx="257.4" cy="385.5" rx="2.5" ry="2.35"/><ellipse cx="262" cy="365.6" rx="2.5" ry="2.35"/><ellipse cx="264.5" cy="391.8" rx="2.5" ry="2.35"/><ellipse cx="266.8" cy="378.4" rx="2.5" ry="2.35"/><ellipse cx="269.1" cy="387.2" rx="2.5" ry="2.35"/><ellipse cx="271.6" cy="373.1" rx="2.5" ry="2.35"/><ellipse cx="278.8" cy="378" rx="2.5" ry="2.35"/><ellipse cx="281.3" cy="363.9" rx="2.5" ry="2.35"/><ellipse cx="293" cy="356.8" rx="2.5" ry="2.35"/><ellipse cx="295.5" cy="367.4" rx="2.5" ry="2.35"/><ellipse cx="297.8" cy="367" rx="2.5" ry="2.35"/><ellipse cx="300.4" cy="367" rx="2.5" ry="2.35"/><ellipse cx="305.2" cy="367.8" rx="2.5" ry="2.35"/><ellipse cx="307.5" cy="374.1" rx="2.5" ry="2.35"/><ellipse cx="315" cy="376.2" rx="2.5" ry="2.35"/></g>
<path d="M44 334.9V409.7M328.2 334.9V409.7" stroke="#909090" stroke-width="1.6"/>
<path d="M43.2 335.6H329M43.2 409H329" stroke="#646464" stroke-width="1.5"/>
<path d="M44 407.12h1.6M328.2 407.12h-1.6 M44 395.35h3.0M328.2 395.35h-3.0 M44 383.57h1.6M328.2 383.57h-1.6 M44 371.8h3.0M328.2 371.8h-3.0 M44 360.03h1.6M328.2 360.03h-1.6 M44 348.25h3.0M328.2 348.25h-3.0 M44 336.48h1.6M328.2 336.48h-1.6 M53.17 409v-1.6M53.17 335.6v1.6 M62.34 409v-1.6M62.34 335.6v1.6 M71.5 409v-1.6M71.5 335.6v1.6 M80.67 409v-1.6M80.67 335.6v1.6 M89.84 409v-1.6M89.84 335.6v1.6 M99.01 409v-1.6M99.01 335.6v1.6 M108.17 409v-1.6M108.17 335.6v1.6 M117.34 409v-1.6M117.34 335.6v1.6 M126.51 409v-1.6M126.51 335.6v1.6 M135.68 409v-3.0M135.68 335.6v3.0 M144.85 409v-1.6M144.85 335.6v1.6 M154.01 409v-1.6M154.01 335.6v1.6 M163.18 409v-1.6M163.18 335.6v1.6 M172.35 409v-1.6M172.35 335.6v1.6 M181.52 409v-1.6M181.52 335.6v1.6 M190.68 409v-1.6M190.68 335.6v1.6 M199.85 409v-1.6M199.85 335.6v1.6 M209.02 409v-1.6M209.02 335.6v1.6 M218.19 409v-1.6M218.19 335.6v1.6 M227.35 409v-3.0M227.35 335.6v3.0 M236.52 409v-1.6M236.52 335.6v1.6 M245.69 409v-1.6M245.69 335.6v1.6 M254.86 409v-1.6M254.86 335.6v1.6 M264.03 409v-1.6M264.03 335.6v1.6 M273.19 409v-1.6M273.19 335.6v1.6 M282.36 409v-1.6M282.36 335.6v1.6 M291.53 409v-1.6M291.53 335.6v1.6 M300.7 409v-1.6M300.7 335.6v1.6 M309.86 409v-1.6M309.86 335.6v1.6 M319.03 409v-3.0M319.03 335.6v3.0" stroke="#222" stroke-width="1" fill="none"/>
<text transform="translate(40.2,352.95) scale(1.06,1)" font-size="12" text-anchor="end">20</text>
<text transform="translate(40.2,376.5) scale(1.06,1)" font-size="12" text-anchor="end">0</text>
<text transform="translate(40.2,400.05) scale(1.06,1)" font-size="12" text-anchor="end">−20</text>
<text transform="translate(44,423.4) scale(1.06,1)" font-size="12" text-anchor="middle">0</text>
<text transform="translate(135.68,423.4) scale(1.06,1)" font-size="12" text-anchor="middle">500</text>
<text transform="translate(227.35,423.4) scale(1.06,1)" font-size="12" text-anchor="middle">1000</text>
<text transform="translate(319.03,423.4) scale(1.06,1)" font-size="12" text-anchor="middle">1500</text>
<path d="M371.8 13.4H655.8 M371.8 34.7H655.8 M371.8 56H655.8 M463.41 0.5V74 M555.03 0.5V74 M646.64 0.5V74" stroke="#b0b0b0" stroke-width="1" stroke-dasharray="1.3 4.2" fill="none"/>
<text transform="translate(380.8,12.1) scale(1.06,1)" font-size="12" text-anchor="start">KOI 137.02</text>
<text transform="translate(508.6,12.1) scale(1.06,1)" font-size="12" text-anchor="start">Kepler18d</text>
<path d="M388.4 35.4V46.4 M390.9 28.5V39.5 M393.9 6.2V17.2 M396.5 23.3V34.3 M399.2 24.4V35.4 M401.8 9.2V20.2 M404.4 19.5V30.5 M407.4 26.8V37.8 M410 25.6V36.6 M412.9 47.2V58.2 M420.8 47.5V58.5 M426.4 51V62 M428.9 53.2V64.2 M439.5 22.5V33.5 M442.6 16.4V27.4 M445.5 4.3V15.3 M448.1 9.5V20.5 M451.1 19.5V30.5 M453.8 21.3V32.3 M456.3 31.3V42.3 M459 31.3V42.3 M464.5 40.8V51.8 M467.1 48V59 M470.1 53.2V64.2 M472.7 49.4V60.4 M475.4 48.4V59.4 M478 42V53 M489.1 13.2V24.2 M497.4 4.9V15.9 M500 7.1V18.1 M505.5 7.5V18.5 M502.5 36.3V47.3 M508.1 32.5V43.5 M510.8 32.2V43.2 M513.8 31.1V42.1 M516 43.7V54.7 M518.9 46.7V57.7 M521.5 50.6V61.6 M524.5 41.1V52.1 M538.1 20.1V31.1 M540.7 21.3V32.3 M543.7 23.3V34.3 M546.3 4.3V15.3 M549 20.8V31.8 M551.6 15.6V26.6 M556.8 29V40 M559.7 35.6V46.6 M562.7 36.3V47.3 M565.3 46.7V57.7 M568 41.1V52.1 M570.6 54.9V65.9 M573.5 44.6V55.6 M576.1 38.9V49.9 M586.9 23.5V34.5 M589.7 17.3V28.3 M592.5 7.3V18.3 M595.1 4.4V15.4 M598.1 11.9V22.9 M600.8 3.8V14.8 M603.4 21.9V32.9 M606.3 25.1V36.1 M609 41.1V52.1 M611.6 48.3V59.3 M614.1 45.8V56.8 M617 46.9V57.9 M619.5 59.7V70.7 M625.2 44.5V55.5 M636 26.4V37.4 M641.6 9.5V20.5 M644.1 7.9V18.9 M646.9 16.9V27.9" stroke="#4040ff" stroke-width="1.1" fill="none"/>
<g fill="#0000ff"><ellipse cx="388.4" cy="40.9" rx="2.5" ry="2.35"/><ellipse cx="390.9" cy="34" rx="2.5" ry="2.35"/><ellipse cx="393.9" cy="11.7" rx="2.5" ry="2.35"/><ellipse cx="396.5" cy="28.8" rx="2.5" ry="2.35"/><ellipse cx="399.2" cy="29.9" rx="2.5" ry="2.35"/><ellipse cx="401.8" cy="14.7" rx="2.5" ry="2.35"/><ellipse cx="404.4" cy="25" rx="2.5" ry="2.35"/><ellipse cx="407.4" cy="32.3" rx="2.5" ry="2.35"/><ellipse cx="410" cy="31.1" rx="2.5" ry="2.35"/><ellipse cx="412.9" cy="52.7" rx="2.5" ry="2.35"/><ellipse cx="420.8" cy="53" rx="2.5" ry="2.35"/><ellipse cx="426.4" cy="56.5" rx="2.5" ry="2.35"/><ellipse cx="428.9" cy="58.7" rx="2.5" ry="2.35"/><ellipse cx="439.5" cy="28" rx="2.5" ry="2.35"/><ellipse cx="442.6" cy="21.9" rx="2.5" ry="2.35"/><ellipse cx="445.5" cy="9.8" rx="2.5" ry="2.35"/><ellipse cx="448.1" cy="15" rx="2.5" ry="2.35"/><ellipse cx="451.1" cy="25" rx="2.5" ry="2.35"/><ellipse cx="453.8" cy="26.8" rx="2.5" ry="2.35"/><ellipse cx="456.3" cy="36.8" rx="2.5" ry="2.35"/><ellipse cx="459" cy="36.8" rx="2.5" ry="2.35"/><ellipse cx="464.5" cy="46.3" rx="2.5" ry="2.35"/><ellipse cx="467.1" cy="53.5" rx="2.5" ry="2.35"/><ellipse cx="470.1" cy="58.7" rx="2.5" ry="2.35"/><ellipse cx="472.7" cy="54.9" rx="2.5" ry="2.35"/><ellipse cx="475.4" cy="53.9" rx="2.5" ry="2.35"/><ellipse cx="478" cy="47.5" rx="2.5" ry="2.35"/><ellipse cx="489.1" cy="18.7" rx="2.5" ry="2.35"/><ellipse cx="497.4" cy="10.4" rx="2.5" ry="2.35"/><ellipse cx="500" cy="12.6" rx="2.5" ry="2.35"/><ellipse cx="505.5" cy="13" rx="2.5" ry="2.35"/><ellipse cx="502.5" cy="41.8" rx="2.5" ry="2.35"/><ellipse cx="508.1" cy="38" rx="2.5" ry="2.35"/><ellipse cx="510.8" cy="37.7" rx="2.5" ry="2.35"/><ellipse cx="513.8" cy="36.6" rx="2.5" ry="2.35"/><ellipse cx="516" cy="49.2" rx="2.5" ry="2.35"/><ellipse cx="518.9" cy="52.2" rx="2.5" ry="2.35"/><ellipse cx="521.5" cy="56.1" rx="2.5" ry="2.35"/><ellipse cx="524.5" cy="46.6" rx="2.5" ry="2.35"/><ellipse cx="538.1" cy="25.6" rx="2.5" ry="2.35"/><ellipse cx="540.7" cy="26.8" rx="2.5" ry="2.35"/><ellipse cx="543.7" cy="28.8" rx="2.5" ry="2.35"/><ellipse cx="546.3" cy="9.8" rx="2.5" ry="2.35"/><ellipse cx="549" cy="26.3" rx="2.5" ry="2.35"/><ellipse cx="551.6" cy="21.1" rx="2.5" ry="2.35"/><ellipse cx="556.8" cy="34.5" rx="2.5" ry="2.35"/><ellipse cx="559.7" cy="41.1" rx="2.5" ry="2.35"/><ellipse cx="562.7" cy="41.8" rx="2.5" ry="2.35"/><ellipse cx="565.3" cy="52.2" rx="2.5" ry="2.35"/><ellipse cx="568" cy="46.6" rx="2.5" ry="2.35"/><ellipse cx="570.6" cy="60.4" rx="2.5" ry="2.35"/><ellipse cx="573.5" cy="50.1" rx="2.5" ry="2.35"/><ellipse cx="576.1" cy="44.4" rx="2.5" ry="2.35"/><ellipse cx="586.9" cy="29" rx="2.5" ry="2.35"/><ellipse cx="589.7" cy="22.8" rx="2.5" ry="2.35"/><ellipse cx="592.5" cy="12.8" rx="2.5" ry="2.35"/><ellipse cx="595.1" cy="9.9" rx="2.5" ry="2.35"/><ellipse cx="598.1" cy="17.4" rx="2.5" ry="2.35"/><ellipse cx="600.8" cy="9.3" rx="2.5" ry="2.35"/><ellipse cx="603.4" cy="27.4" rx="2.5" ry="2.35"/><ellipse cx="606.3" cy="30.6" rx="2.5" ry="2.35"/><ellipse cx="609" cy="46.6" rx="2.5" ry="2.35"/><ellipse cx="611.6" cy="53.8" rx="2.5" ry="2.35"/><ellipse cx="614.1" cy="51.3" rx="2.5" ry="2.35"/><ellipse cx="617" cy="52.4" rx="2.5" ry="2.35"/><ellipse cx="619.5" cy="65.2" rx="2.5" ry="2.35"/><ellipse cx="625.2" cy="50" rx="2.5" ry="2.35"/><ellipse cx="636" cy="31.9" rx="2.5" ry="2.35"/><ellipse cx="641.6" cy="15" rx="2.5" ry="2.35"/><ellipse cx="644.1" cy="13.4" rx="2.5" ry="2.35"/><ellipse cx="646.9" cy="22.4" rx="2.5" ry="2.35"/></g>
<path d="M371.8 -0.2V74.7M655.8 -0.2V74.7" stroke="#909090" stroke-width="1.6"/>
<path d="M371 0.5H656.6M371 74H656.6" stroke="#646464" stroke-width="1.5"/>
<path d="M371.8 66.65h1.6M655.8 66.65h-1.6 M371.8 56h3.0M655.8 56h-3.0 M371.8 45.35h1.6M655.8 45.35h-1.6 M371.8 34.7h3.0M655.8 34.7h-3.0 M371.8 24.05h1.6M655.8 24.05h-1.6 M371.8 13.4h3.0M655.8 13.4h-3.0 M371.8 2.75h1.6M655.8 2.75h-1.6 M380.96 74v-1.6M380.96 0.5v1.6 M390.12 74v-1.6M390.12 0.5v1.6 M399.28 74v-1.6M399.28 0.5v1.6 M408.45 74v-1.6M408.45 0.5v1.6 M417.61 74v-1.6M417.61 0.5v1.6 M426.77 74v-1.6M426.77 0.5v1.6 M435.93 74v-1.6M435.93 0.5v1.6 M445.09 74v-1.6M445.09 0.5v1.6 M454.25 74v-1.6M454.25 0.5v1.6 M463.41 74v-3.0M463.41 0.5v3.0 M472.57 74v-1.6M472.57 0.5v1.6 M481.74 74v-1.6M481.74 0.5v1.6 M490.9 74v-1.6M490.9 0.5v1.6 M500.06 74v-1.6M500.06 0.5v1.6 M509.22 74v-1.6M509.22 0.5v1.6 M518.38 74v-1.6M518.38 0.5v1.6 M527.54 74v-1.6M527.54 0.5v1.6 M536.7 74v-1.6M536.7 0.5v1.6 M545.86 74v-1.6M545.86 0.5v1.6 M555.03 74v-3.0M555.03 0.5v3.0 M564.19 74v-1.6M564.19 0.5v1.6 M573.35 74v-1.6M573.35 0.5v1.6 M582.51 74v-1.6M582.51 0.5v1.6 M591.67 74v-1.6M591.67 0.5v1.6 M600.83 74v-1.6M600.83 0.5v1.6 M609.99 74v-1.6M609.99 0.5v1.6 M619.15 74v-1.6M619.15 0.5v1.6 M628.32 74v-1.6M628.32 0.5v1.6 M637.48 74v-1.6M637.48 0.5v1.6 M646.64 74v-3.0M646.64 0.5v3.0" stroke="#222" stroke-width="1" fill="none"/>
<path d="M371 0.5H656.6" stroke="#383838" stroke-width="1.3"/>
<text transform="translate(368,18.1) scale(1.06,1)" font-size="12" text-anchor="end">5</text>
<text transform="translate(368,39.4) scale(1.06,1)" font-size="12" text-anchor="end">0</text>
<text transform="translate(368,60.7) scale(1.06,1)" font-size="12" text-anchor="end">−5</text>
<path d="M371.8 99.2H655.8 M371.8 121.8H655.8 M371.8 144.4H655.8 M463.41 84.1V157.9 M555.03 84.1V157.9 M646.64 84.1V157.9" stroke="#b0b0b0" stroke-width="1" stroke-dasharray="1.3 4.2" fill="none"/>
<text transform="translate(380.8,95.7) scale(1.06,1)" font-size="12" text-anchor="start">KOI 142.01</text>
<text transform="translate(508.6,95.7) scale(1.06,1)" font-size="12" text-anchor="start">Kepler88b</text>
<g fill="#0000ff"><ellipse cx="380.9" cy="95.1" rx="2.5" ry="2.35"/><ellipse cx="382.77" cy="96.75" rx="2.5" ry="2.35"/><ellipse cx="384.65" cy="98.4" rx="2.5" ry="2.35"/><ellipse cx="386.52" cy="100.05" rx="2.5" ry="2.35"/><ellipse cx="388.4" cy="101.7" rx="2.5" ry="2.35"/><ellipse cx="391.5" cy="104.8" rx="2.5" ry="2.35"/><ellipse cx="393.6" cy="107.38" rx="2.5" ry="2.35"/><ellipse cx="395.7" cy="109.95" rx="2.5" ry="2.35"/><ellipse cx="397.8" cy="112.52" rx="2.5" ry="2.35"/><ellipse cx="399.9" cy="115.1" rx="2.5" ry="2.35"/><ellipse cx="403.4" cy="119.9" rx="2.5" ry="2.35"/><ellipse cx="405.43" cy="122.71" rx="2.5" ry="2.35"/><ellipse cx="407.47" cy="125.52" rx="2.5" ry="2.35"/><ellipse cx="409.5" cy="128.33" rx="2.5" ry="2.35"/><ellipse cx="411.53" cy="131.14" rx="2.5" ry="2.35"/><ellipse cx="413.57" cy="133.96" rx="2.5" ry="2.35"/><ellipse cx="415.6" cy="136.77" rx="2.5" ry="2.35"/><ellipse cx="417.63" cy="139.58" rx="2.5" ry="2.35"/><ellipse cx="419.67" cy="142.39" rx="2.5" ry="2.35"/><ellipse cx="421.7" cy="145.2" rx="2.5" ry="2.35"/><ellipse cx="425.4" cy="149.2" rx="2.5" ry="2.35"/><ellipse cx="427.44" cy="151.11" rx="2.5" ry="2.35"/><ellipse cx="429.48" cy="152.74" rx="2.5" ry="2.35"/><ellipse cx="431.52" cy="153.89" rx="2.5" ry="2.35"/><ellipse cx="433.56" cy="154.36" rx="2.5" ry="2.35"/><ellipse cx="435.6" cy="154.4" rx="2.5" ry="2.35"/><ellipse cx="437.64" cy="153.83" rx="2.5" ry="2.35"/><ellipse cx="439.68" cy="152.52" rx="2.5" ry="2.35"/><ellipse cx="441.72" cy="150.4" rx="2.5" ry="2.35"/><ellipse cx="443.76" cy="148.05" rx="2.5" ry="2.35"/><ellipse cx="445.8" cy="145.77" rx="2.5" ry="2.35"/><ellipse cx="447.84" cy="143.5" rx="2.5" ry="2.35"/><ellipse cx="449.88" cy="140.13" rx="2.5" ry="2.35"/><ellipse cx="451.92" cy="135.89" rx="2.5" ry="2.35"/><ellipse cx="453.96" cy="132.26" rx="2.5" ry="2.35"/><ellipse cx="456" cy="127.6" rx="2.5" ry="2.35"/><ellipse cx="459.8" cy="118.6" rx="2.5" ry="2.35"/><ellipse cx="461.83" cy="115.31" rx="2.5" ry="2.35"/><ellipse cx="463.87" cy="110.09" rx="2.5" ry="2.35"/><ellipse cx="465.9" cy="106.6" rx="2.5" ry="2.35"/><ellipse cx="467.93" cy="101.82" rx="2.5" ry="2.35"/><ellipse cx="469.97" cy="99.34" rx="2.5" ry="2.35"/><ellipse cx="472" cy="95.03" rx="2.5" ry="2.35"/><ellipse cx="474.03" cy="93.1" rx="2.5" ry="2.35"/><ellipse cx="476.07" cy="90.43" rx="2.5" ry="2.35"/><ellipse cx="478.1" cy="89.23" rx="2.5" ry="2.35"/><ellipse cx="480.13" cy="87.88" rx="2.5" ry="2.35"/><ellipse cx="482.17" cy="87.5" rx="2.5" ry="2.35"/><ellipse cx="484.2" cy="87.54" rx="2.5" ry="2.35"/><ellipse cx="486.23" cy="88.37" rx="2.5" ry="2.35"/><ellipse cx="488.27" cy="89.44" rx="2.5" ry="2.35"/><ellipse cx="490.3" cy="91.1" rx="2.5" ry="2.35"/><ellipse cx="495.8" cy="94.9" rx="2.5" ry="2.35"/><ellipse cx="497.87" cy="97.37" rx="2.5" ry="2.35"/><ellipse cx="499.94" cy="99.85" rx="2.5" ry="2.35"/><ellipse cx="502.02" cy="102.32" rx="2.5" ry="2.35"/><ellipse cx="504.09" cy="104.8" rx="2.5" ry="2.35"/><ellipse cx="506.16" cy="107.27" rx="2.5" ry="2.35"/><ellipse cx="508.23" cy="109.75" rx="2.5" ry="2.35"/><ellipse cx="510.3" cy="112.22" rx="2.5" ry="2.35"/><ellipse cx="512.38" cy="114.69" rx="2.5" ry="2.35"/><ellipse cx="514.45" cy="117.17" rx="2.5" ry="2.35"/><ellipse cx="516.52" cy="119.64" rx="2.5" ry="2.35"/><ellipse cx="518.59" cy="122.12" rx="2.5" ry="2.35"/><ellipse cx="520.66" cy="124.66" rx="2.5" ry="2.35"/><ellipse cx="522.73" cy="127.34" rx="2.5" ry="2.35"/><ellipse cx="524.81" cy="129.91" rx="2.5" ry="2.35"/><ellipse cx="526.88" cy="131.98" rx="2.5" ry="2.35"/><ellipse cx="528.95" cy="134.05" rx="2.5" ry="2.35"/><ellipse cx="531.02" cy="136.12" rx="2.5" ry="2.35"/><ellipse cx="533.09" cy="138.19" rx="2.5" ry="2.35"/><ellipse cx="535.17" cy="140.05" rx="2.5" ry="2.35"/><ellipse cx="537.24" cy="141.89" rx="2.5" ry="2.35"/><ellipse cx="539.31" cy="143.62" rx="2.5" ry="2.35"/><ellipse cx="541.38" cy="145.31" rx="2.5" ry="2.35"/><ellipse cx="543.45" cy="146.58" rx="2.5" ry="2.35"/><ellipse cx="545.52" cy="147.61" rx="2.5" ry="2.35"/><ellipse cx="547.6" cy="148.22" rx="2.5" ry="2.35"/><ellipse cx="549.67" cy="148.45" rx="2.5" ry="2.35"/><ellipse cx="551.74" cy="149.02" rx="2.5" ry="2.35"/><ellipse cx="553.81" cy="148.32" rx="2.5" ry="2.35"/><ellipse cx="555.88" cy="147.18" rx="2.5" ry="2.35"/><ellipse cx="557.96" cy="146.26" rx="2.5" ry="2.35"/><ellipse cx="560.03" cy="145.07" rx="2.5" ry="2.35"/><ellipse cx="562.1" cy="143.6" rx="2.5" ry="2.35"/><ellipse cx="566.1" cy="138.8" rx="2.5" ry="2.35"/><ellipse cx="568.3" cy="135.7" rx="2.5" ry="2.35"/><ellipse cx="570.5" cy="132.6" rx="2.5" ry="2.35"/><ellipse cx="574.3" cy="125.8" rx="2.5" ry="2.35"/><ellipse cx="576.36" cy="121.62" rx="2.5" ry="2.35"/><ellipse cx="578.42" cy="117.99" rx="2.5" ry="2.35"/><ellipse cx="580.48" cy="114.37" rx="2.5" ry="2.35"/><ellipse cx="582.54" cy="110.63" rx="2.5" ry="2.35"/><ellipse cx="584.6" cy="106.9" rx="2.5" ry="2.35"/><ellipse cx="586.66" cy="103.24" rx="2.5" ry="2.35"/><ellipse cx="588.72" cy="100.71" rx="2.5" ry="2.35"/><ellipse cx="590.78" cy="97.91" rx="2.5" ry="2.35"/><ellipse cx="592.84" cy="95.79" rx="2.5" ry="2.35"/><ellipse cx="594.9" cy="94.2" rx="2.5" ry="2.35"/><ellipse cx="599.8" cy="93.3" rx="2.5" ry="2.35"/><ellipse cx="601.94" cy="92.89" rx="2.5" ry="2.35"/><ellipse cx="604.07" cy="93.56" rx="2.5" ry="2.35"/><ellipse cx="606.21" cy="94.62" rx="2.5" ry="2.35"/><ellipse cx="608.35" cy="96.15" rx="2.5" ry="2.35"/><ellipse cx="610.49" cy="98.33" rx="2.5" ry="2.35"/><ellipse cx="612.62" cy="101.53" rx="2.5" ry="2.35"/><ellipse cx="614.76" cy="104.65" rx="2.5" ry="2.35"/><ellipse cx="616.9" cy="107.7" rx="2.5" ry="2.35"/><ellipse cx="620.5" cy="112.7" rx="2.5" ry="2.35"/><ellipse cx="624.4" cy="118.3" rx="2.5" ry="2.35"/><ellipse cx="626.6" cy="121.6" rx="2.5" ry="2.35"/><ellipse cx="628.8" cy="124.1" rx="2.5" ry="2.35"/><ellipse cx="632.7" cy="129" rx="2.5" ry="2.35"/><ellipse cx="634.72" cy="131.32" rx="2.5" ry="2.35"/><ellipse cx="636.74" cy="133.4" rx="2.5" ry="2.35"/><ellipse cx="638.77" cy="135.37" rx="2.5" ry="2.35"/><ellipse cx="640.79" cy="137.09" rx="2.5" ry="2.35"/><ellipse cx="642.81" cy="138.78" rx="2.5" ry="2.35"/><ellipse cx="644.83" cy="140.44" rx="2.5" ry="2.35"/><ellipse cx="646.86" cy="141.78" rx="2.5" ry="2.35"/><ellipse cx="648.88" cy="143" rx="2.5" ry="2.35"/><ellipse cx="650.9" cy="144.2" rx="2.5" ry="2.35"/></g>
<path d="M371.8 83.4V158.6M655.8 83.4V158.6" stroke="#909090" stroke-width="1.6"/>
<path d="M371 84.1H656.6M371 157.9H656.6" stroke="#646464" stroke-width="1.5"/>
<path d="M371.8 155.7h1.6M655.8 155.7h-1.6 M371.8 144.4h3.0M655.8 144.4h-3.0 M371.8 133.1h1.6M655.8 133.1h-1.6 M371.8 121.8h3.0M655.8 121.8h-3.0 M371.8 110.5h1.6M655.8 110.5h-1.6 M371.8 99.2h3.0M655.8 99.2h-3.0 M371.8 87.9h1.6M655.8 87.9h-1.6 M380.96 157.9v-1.6M380.96 84.1v1.6 M390.12 157.9v-1.6M390.12 84.1v1.6 M399.28 157.9v-1.6M399.28 84.1v1.6 M408.45 157.9v-1.6M408.45 84.1v1.6 M417.61 157.9v-1.6M417.61 84.1v1.6 M426.77 157.9v-1.6M426.77 84.1v1.6 M435.93 157.9v-1.6M435.93 84.1v1.6 M445.09 157.9v-1.6M445.09 84.1v1.6 M454.25 157.9v-1.6M454.25 84.1v1.6 M463.41 157.9v-3.0M463.41 84.1v3.0 M472.57 157.9v-1.6M472.57 84.1v1.6 M481.74 157.9v-1.6M481.74 84.1v1.6 M490.9 157.9v-1.6M490.9 84.1v1.6 M500.06 157.9v-1.6M500.06 84.1v1.6 M509.22 157.9v-1.6M509.22 84.1v1.6 M518.38 157.9v-1.6M518.38 84.1v1.6 M527.54 157.9v-1.6M527.54 84.1v1.6 M536.7 157.9v-1.6M536.7 84.1v1.6 M545.86 157.9v-1.6M545.86 84.1v1.6 M555.03 157.9v-3.0M555.03 84.1v3.0 M564.19 157.9v-1.6M564.19 84.1v1.6 M573.35 157.9v-1.6M573.35 84.1v1.6 M582.51 157.9v-1.6M582.51 84.1v1.6 M591.67 157.9v-1.6M591.67 84.1v1.6 M600.83 157.9v-1.6M600.83 84.1v1.6 M609.99 157.9v-1.6M609.99 84.1v1.6 M619.15 157.9v-1.6M619.15 84.1v1.6 M628.32 157.9v-1.6M628.32 84.1v1.6 M637.48 157.9v-1.6M637.48 84.1v1.6 M646.64 157.9v-3.0M646.64 84.1v3.0" stroke="#222" stroke-width="1" fill="none"/>
<text transform="translate(368,103.9) scale(1.06,1)" font-size="12" text-anchor="end">500</text>
<text transform="translate(368,126.5) scale(1.06,1)" font-size="12" text-anchor="end">0</text>
<text transform="translate(368,149.1) scale(1.06,1)" font-size="12" text-anchor="end">−500</text>
<path d="M371.8 177.3H655.8 M371.8 194.4H655.8 M371.8 211.5H655.8 M371.8 228.6H655.8 M463.41 168.1V241.4 M555.03 168.1V241.4 M646.64 168.1V241.4" stroke="#b0b0b0" stroke-width="1" stroke-dasharray="1.3 4.2" fill="none"/>
<text transform="translate(380.8,179.7) scale(1.06,1)" font-size="12" text-anchor="start">KOI 152.02</text>
<text transform="translate(508.6,179.7) scale(1.06,1)" font-size="12" text-anchor="start">Kepler79c</text>
<path d="M383.9 201.2V214.6 M389.1 198.8V210.2 M394.1 186.2V199.6 M398.9 179.4V196.8 M403.9 179.4V196.8 M408.9 178.9V196.3 M423.9 172.8V184.2 M428.9 174.2V185.6 M439.1 176.9V194.3 M448.9 178V195.4 M453.9 174.9V190.3 M464.1 175.9V189.3 M479.2 192.9V210.3 M484.5 182.5V199.9 M489.1 199.4V212.8 M494.5 195.2V212.6 M504.5 205.8V217.2 M509.4 208.8V226.2 M514.5 192.9V210.3 M519.4 201.2V218.6 M524.4 187.8V209.2 M529.5 210.2V225.6 M534.4 195V210.4 M539.5 206V237.4 M544.4 194.8V210.2 M549.5 186V199.4 M554.6 177V208.4 M559.5 180.5V193.9 M564.7 187.1V206.5 M584.9 197V214.4 M589.9 187.5V202.9 M594.8 179.8V197.2 M599.9 188.9V206.3 M604.8 177V196.4 M609.9 169.4V194.8 M614.8 173.4V192.8 M619.9 189.8V207.2 M624.8 186.2V201.6 M629.9 174.3V185.7 M634.8 176.4V187.8" stroke="#4040ff" stroke-width="1.1" fill="none"/>
<g fill="#0000ff"><ellipse cx="383.9" cy="207.9" rx="2.5" ry="2.35"/><ellipse cx="389.1" cy="204.5" rx="2.5" ry="2.35"/><ellipse cx="394.1" cy="192.9" rx="2.5" ry="2.35"/><ellipse cx="398.9" cy="188.1" rx="2.5" ry="2.35"/><ellipse cx="403.9" cy="188.1" rx="2.5" ry="2.35"/><ellipse cx="408.9" cy="187.6" rx="2.5" ry="2.35"/><ellipse cx="423.9" cy="178.5" rx="2.5" ry="2.35"/><ellipse cx="428.9" cy="179.9" rx="2.5" ry="2.35"/><ellipse cx="439.1" cy="185.6" rx="2.5" ry="2.35"/><ellipse cx="448.9" cy="186.7" rx="2.5" ry="2.35"/><ellipse cx="453.9" cy="182.6" rx="2.5" ry="2.35"/><ellipse cx="464.1" cy="182.6" rx="2.5" ry="2.35"/><ellipse cx="479.2" cy="201.6" rx="2.5" ry="2.35"/><ellipse cx="484.5" cy="191.2" rx="2.5" ry="2.35"/><ellipse cx="489.1" cy="206.1" rx="2.5" ry="2.35"/><ellipse cx="494.5" cy="203.9" rx="2.5" ry="2.35"/><ellipse cx="504.5" cy="211.5" rx="2.5" ry="2.35"/><ellipse cx="509.4" cy="217.5" rx="2.5" ry="2.35"/><ellipse cx="514.5" cy="201.6" rx="2.5" ry="2.35"/><ellipse cx="519.4" cy="209.9" rx="2.5" ry="2.35"/><ellipse cx="524.4" cy="198.5" rx="2.5" ry="2.35"/><ellipse cx="529.5" cy="217.9" rx="2.5" ry="2.35"/><ellipse cx="534.4" cy="202.7" rx="2.5" ry="2.35"/><ellipse cx="539.5" cy="221.7" rx="2.5" ry="2.35"/><ellipse cx="544.4" cy="202.5" rx="2.5" ry="2.35"/><ellipse cx="549.5" cy="192.7" rx="2.5" ry="2.35"/><ellipse cx="554.6" cy="192.7" rx="2.5" ry="2.35"/><ellipse cx="559.5" cy="187.2" rx="2.5" ry="2.35"/><ellipse cx="564.7" cy="196.8" rx="2.5" ry="2.35"/><ellipse cx="584.9" cy="205.7" rx="2.5" ry="2.35"/><ellipse cx="589.9" cy="195.2" rx="2.5" ry="2.35"/><ellipse cx="594.8" cy="188.5" rx="2.5" ry="2.35"/><ellipse cx="599.9" cy="197.6" rx="2.5" ry="2.35"/><ellipse cx="604.8" cy="186.7" rx="2.5" ry="2.35"/><ellipse cx="609.9" cy="182.1" rx="2.5" ry="2.35"/><ellipse cx="614.8" cy="183.1" rx="2.5" ry="2.35"/><ellipse cx="619.9" cy="198.5" rx="2.5" ry="2.35"/><ellipse cx="624.8" cy="193.9" rx="2.5" ry="2.35"/><ellipse cx="629.9" cy="180" rx="2.5" ry="2.35"/><ellipse cx="634.8" cy="182.1" rx="2.5" ry="2.35"/></g>
<path d="M371.8 167.4V242.1M655.8 167.4V242.1" stroke="#909090" stroke-width="1.6"/>
<path d="M371 168.1H656.6M371 241.4H656.6" stroke="#646464" stroke-width="1.5"/>
<path d="M371.8 237.15h1.6M655.8 237.15h-1.6 M371.8 228.6h3.0M655.8 228.6h-3.0 M371.8 220.05h1.6M655.8 220.05h-1.6 M371.8 211.5h3.0M655.8 211.5h-3.0 M371.8 202.95h1.6M655.8 202.95h-1.6 M371.8 194.4h3.0M655.8 194.4h-3.0 M371.8 185.85h1.6M655.8 185.85h-1.6 M371.8 177.3h3.0M655.8 177.3h-3.0 M380.96 241.4v-1.6M380.96 168.1v1.6 M390.12 241.4v-1.6M390.12 168.1v1.6 M399.28 241.4v-1.6M399.28 168.1v1.6 M408.45 241.4v-1.6M408.45 168.1v1.6 M417.61 241.4v-1.6M417.61 168.1v1.6 M426.77 241.4v-1.6M426.77 168.1v1.6 M435.93 241.4v-1.6M435.93 168.1v1.6 M445.09 241.4v-1.6M445.09 168.1v1.6 M454.25 241.4v-1.6M454.25 168.1v1.6 M463.41 241.4v-3.0M463.41 168.1v3.0 M472.57 241.4v-1.6M472.57 168.1v1.6 M481.74 241.4v-1.6M481.74 168.1v1.6 M490.9 241.4v-1.6M490.9 168.1v1.6 M500.06 241.4v-1.6M500.06 168.1v1.6 M509.22 241.4v-1.6M509.22 168.1v1.6 M518.38 241.4v-1.6M518.38 168.1v1.6 M527.54 241.4v-1.6M527.54 168.1v1.6 M536.7 241.4v-1.6M536.7 168.1v1.6 M545.86 241.4v-1.6M545.86 168.1v1.6 M555.03 241.4v-3.0M555.03 168.1v3.0 M564.19 241.4v-1.6M564.19 168.1v1.6 M573.35 241.4v-1.6M573.35 168.1v1.6 M582.51 241.4v-1.6M582.51 168.1v1.6 M591.67 241.4v-1.6M591.67 168.1v1.6 M600.83 241.4v-1.6M600.83 168.1v1.6 M609.99 241.4v-1.6M609.99 168.1v1.6 M619.15 241.4v-1.6M619.15 168.1v1.6 M628.32 241.4v-1.6M628.32 168.1v1.6 M637.48 241.4v-1.6M637.48 168.1v1.6 M646.64 241.4v-3.0M646.64 168.1v3.0" stroke="#222" stroke-width="1" fill="none"/>
<text transform="translate(368,182) scale(1.06,1)" font-size="12" text-anchor="end">20</text>
<text transform="translate(368,199.1) scale(1.06,1)" font-size="12" text-anchor="end">0</text>
<text transform="translate(368,216.2) scale(1.06,1)" font-size="12" text-anchor="end">−20</text>
<text transform="translate(368,233.3) scale(1.06,1)" font-size="12" text-anchor="end">−40</text>
<path d="M371.8 268.7H655.8 M371.8 294.6H655.8 M371.8 320.5H655.8 M463.41 251.6V325.5 M555.03 251.6V325.5 M646.64 251.6V325.5" stroke="#b0b0b0" stroke-width="1" stroke-dasharray="1.3 4.2" fill="none"/>
<text transform="translate(380.8,263.2) scale(1.06,1)" font-size="12" text-anchor="start">KOI 152.04</text>
<text transform="translate(508.6,263.2) scale(1.06,1)" font-size="12" text-anchor="start">Kepler79e</text>
<path d="M384.9 287.8V308.8 M399.6 270.8V294.8 M414.5 280.2V298.2 M429.7 307V319 M444.7 297.9V321.9 M489.3 282.5V298.5 M518.9 257.5V273.5 M533.8 273.7V287.7 M548.8 273.9V295.9 M563.5 298.6V318.6 M578.4 302.6V318.6 M593.1 301.1V321.1 M608 287V308 M637.7 276.8V289.8" stroke="#4040ff" stroke-width="1.1" fill="none"/>
<g fill="#0000ff"><ellipse cx="384.9" cy="298.3" rx="2.5" ry="2.35"/><ellipse cx="399.6" cy="282.8" rx="2.5" ry="2.35"/><ellipse cx="414.5" cy="289.2" rx="2.5" ry="2.35"/><ellipse cx="429.7" cy="313" rx="2.5" ry="2.35"/><ellipse cx="444.7" cy="309.9" rx="2.5" ry="2.35"/><ellipse cx="489.3" cy="290.5" rx="2.5" ry="2.35"/><ellipse cx="518.9" cy="265.5" rx="2.5" ry="2.35"/><ellipse cx="533.8" cy="280.7" rx="2.5" ry="2.35"/><ellipse cx="548.8" cy="284.9" rx="2.5" ry="2.35"/><ellipse cx="563.5" cy="308.6" rx="2.5" ry="2.35"/><ellipse cx="578.4" cy="310.6" rx="2.5" ry="2.35"/><ellipse cx="593.1" cy="311.1" rx="2.5" ry="2.35"/><ellipse cx="608" cy="297.5" rx="2.5" ry="2.35"/><ellipse cx="637.7" cy="283.3" rx="2.5" ry="2.35"/></g>
<path d="M371.8 250.9V326.2M655.8 250.9V326.2" stroke="#909090" stroke-width="1.6"/>
<path d="M371 251.6H656.6M371 325.5H656.6" stroke="#646464" stroke-width="1.5"/>
<path d="M371.8 320.5h3.0M655.8 320.5h-3.0 M371.8 307.55h1.6M655.8 307.55h-1.6 M371.8 294.6h3.0M655.8 294.6h-3.0 M371.8 281.65h1.6M655.8 281.65h-1.6 M371.8 268.7h3.0M655.8 268.7h-3.0 M371.8 255.75h1.6M655.8 255.75h-1.6 M380.96 325.5v-1.6M380.96 251.6v1.6 M390.12 325.5v-1.6M390.12 251.6v1.6 M399.28 325.5v-1.6M399.28 251.6v1.6 M408.45 325.5v-1.6M408.45 251.6v1.6 M417.61 325.5v-1.6M417.61 251.6v1.6 M426.77 325.5v-1.6M426.77 251.6v1.6 M435.93 325.5v-1.6M435.93 251.6v1.6 M445.09 325.5v-1.6M445.09 251.6v1.6 M454.25 325.5v-1.6M454.25 251.6v1.6 M463.41 325.5v-3.0M463.41 251.6v3.0 M472.57 325.5v-1.6M472.57 251.6v1.6 M481.74 325.5v-1.6M481.74 251.6v1.6 M490.9 325.5v-1.6M490.9 251.6v1.6 M500.06 325.5v-1.6M500.06 251.6v1.6 M509.22 325.5v-1.6M509.22 251.6v1.6 M518.38 325.5v-1.6M518.38 251.6v1.6 M527.54 325.5v-1.6M527.54 251.6v1.6 M536.7 325.5v-1.6M536.7 251.6v1.6 M545.86 325.5v-1.6M545.86 251.6v1.6 M555.03 325.5v-3.0M555.03 251.6v3.0 M564.19 325.5v-1.6M564.19 251.6v1.6 M573.35 325.5v-1.6M573.35 251.6v1.6 M582.51 325.5v-1.6M582.51 251.6v1.6 M591.67 325.5v-1.6M591.67 251.6v1.6 M600.83 325.5v-1.6M600.83 251.6v1.6 M609.99 325.5v-1.6M609.99 251.6v1.6 M619.15 325.5v-1.6M619.15 251.6v1.6 M628.32 325.5v-1.6M628.32 251.6v1.6 M637.48 325.5v-1.6M637.48 251.6v1.6 M646.64 325.5v-3.0M646.64 251.6v3.0" stroke="#222" stroke-width="1" fill="none"/>
<text transform="translate(368,273.4) scale(1.06,1)" font-size="12" text-anchor="end">50</text>
<text transform="translate(368,299.3) scale(1.06,1)" font-size="12" text-anchor="end">0</text>
<text transform="translate(368,325.2) scale(1.06,1)" font-size="12" text-anchor="end">−50</text>
<path d="M371.8 347.9H655.8 M371.8 365.05H655.8 M371.8 382.2H655.8 M371.8 399.35H655.8 M463.41 335.6V409 M555.03 335.6V409 M646.64 335.6V409" stroke="#b0b0b0" stroke-width="1" stroke-dasharray="1.3 4.2" fill="none"/>
<text transform="translate(380.8,347.2) scale(1.06,1)" font-size="12" text-anchor="start">KOI 157.03</text>
<text transform="translate(508.6,347.2) scale(1.06,1)" font-size="12" text-anchor="start">Kepler11e</text>
<path d="M387.5 393.7V405.3 M393.4 392.4V404 M399.1 373.9V385.5 M405.3 375.7V387.3 M411.2 369.3V384.9 M416.9 367.4V379 M428.7 386.8V398.4 M434.6 388.3V401.9 M446.2 374.7V386.3 M451.9 356.6V368.2 M463.8 391.1V402.7 M475.6 362.8V374.4 M481.5 338.7V352.3 M504.9 376.5V390.1 M510.7 353.5V367.1 M516.5 377.2V388.8 M522.2 372.6V386.2 M528.4 381.8V395.4 M534.2 371.7V385.3 M540.3 385.4V399 M546.1 378.7V392.3 M557.6 385V398.6 M563.5 391.2V402.8 M569.2 391.9V405.5 M575.4 368.4V384 M586.9 395.2V406.8 M604.6 367.1V380.7 M610.4 352.3V365.9 M621.9 362.9V375.5 M628.1 368.6V383.2 M634 388.9V402.5 M640 370.3V382.9 M645.8 393.5V406.1" stroke="#4040ff" stroke-width="1.1" fill="none"/>
<g fill="#0000ff"><ellipse cx="387.5" cy="399.5" rx="2.5" ry="2.35"/><ellipse cx="393.4" cy="398.2" rx="2.5" ry="2.35"/><ellipse cx="399.1" cy="379.7" rx="2.5" ry="2.35"/><ellipse cx="405.3" cy="381.5" rx="2.5" ry="2.35"/><ellipse cx="411.2" cy="377.1" rx="2.5" ry="2.35"/><ellipse cx="416.9" cy="373.2" rx="2.5" ry="2.35"/><ellipse cx="428.7" cy="392.6" rx="2.5" ry="2.35"/><ellipse cx="434.6" cy="395.1" rx="2.5" ry="2.35"/><ellipse cx="446.2" cy="380.5" rx="2.5" ry="2.35"/><ellipse cx="451.9" cy="362.4" rx="2.5" ry="2.35"/><ellipse cx="463.8" cy="396.9" rx="2.5" ry="2.35"/><ellipse cx="475.6" cy="368.6" rx="2.5" ry="2.35"/><ellipse cx="481.5" cy="345.5" rx="2.5" ry="2.35"/><ellipse cx="504.9" cy="383.3" rx="2.5" ry="2.35"/><ellipse cx="510.7" cy="360.3" rx="2.5" ry="2.35"/><ellipse cx="516.5" cy="383" rx="2.5" ry="2.35"/><ellipse cx="522.2" cy="379.4" rx="2.5" ry="2.35"/><ellipse cx="528.4" cy="388.6" rx="2.5" ry="2.35"/><ellipse cx="534.2" cy="378.5" rx="2.5" ry="2.35"/><ellipse cx="540.3" cy="392.2" rx="2.5" ry="2.35"/><ellipse cx="546.1" cy="385.5" rx="2.5" ry="2.35"/><ellipse cx="557.6" cy="391.8" rx="2.5" ry="2.35"/><ellipse cx="563.5" cy="397" rx="2.5" ry="2.35"/><ellipse cx="569.2" cy="398.7" rx="2.5" ry="2.35"/><ellipse cx="575.4" cy="376.2" rx="2.5" ry="2.35"/><ellipse cx="586.9" cy="401" rx="2.5" ry="2.35"/><ellipse cx="604.6" cy="373.9" rx="2.5" ry="2.35"/><ellipse cx="610.4" cy="359.1" rx="2.5" ry="2.35"/><ellipse cx="621.9" cy="369.2" rx="2.5" ry="2.35"/><ellipse cx="628.1" cy="375.9" rx="2.5" ry="2.35"/><ellipse cx="634" cy="395.7" rx="2.5" ry="2.35"/><ellipse cx="640" cy="376.6" rx="2.5" ry="2.35"/><ellipse cx="645.8" cy="399.8" rx="2.5" ry="2.35"/></g>
<path d="M371.8 334.9V409.7M655.8 334.9V409.7" stroke="#909090" stroke-width="1.6"/>
<path d="M371 335.6H656.6M371 409H656.6" stroke="#646464" stroke-width="1.5"/>
<path d="M371.8 407.93h1.6M655.8 407.93h-1.6 M371.8 399.35h3.0M655.8 399.35h-3.0 M371.8 390.77h1.6M655.8 390.77h-1.6 M371.8 382.2h3.0M655.8 382.2h-3.0 M371.8 373.62h1.6M655.8 373.62h-1.6 M371.8 365.05h3.0M655.8 365.05h-3.0 M371.8 356.47h1.6M655.8 356.47h-1.6 M371.8 347.9h3.0M655.8 347.9h-3.0 M371.8 339.32h1.6M655.8 339.32h-1.6 M380.96 409v-1.6M380.96 335.6v1.6 M390.12 409v-1.6M390.12 335.6v1.6 M399.28 409v-1.6M399.28 335.6v1.6 M408.45 409v-1.6M408.45 335.6v1.6 M417.61 409v-1.6M417.61 335.6v1.6 M426.77 409v-1.6M426.77 335.6v1.6 M435.93 409v-1.6M435.93 335.6v1.6 M445.09 409v-1.6M445.09 335.6v1.6 M454.25 409v-1.6M454.25 335.6v1.6 M463.41 409v-3.0M463.41 335.6v3.0 M472.57 409v-1.6M472.57 335.6v1.6 M481.74 409v-1.6M481.74 335.6v1.6 M490.9 409v-1.6M490.9 335.6v1.6 M500.06 409v-1.6M500.06 335.6v1.6 M509.22 409v-1.6M509.22 335.6v1.6 M518.38 409v-1.6M518.38 335.6v1.6 M527.54 409v-1.6M527.54 335.6v1.6 M536.7 409v-1.6M536.7 335.6v1.6 M545.86 409v-1.6M545.86 335.6v1.6 M555.03 409v-3.0M555.03 335.6v3.0 M564.19 409v-1.6M564.19 335.6v1.6 M573.35 409v-1.6M573.35 335.6v1.6 M582.51 409v-1.6M582.51 335.6v1.6 M591.67 409v-1.6M591.67 335.6v1.6 M600.83 409v-1.6M600.83 335.6v1.6 M609.99 409v-1.6M609.99 335.6v1.6 M619.15 409v-1.6M619.15 335.6v1.6 M628.32 409v-1.6M628.32 335.6v1.6 M637.48 409v-1.6M637.48 335.6v1.6 M646.64 409v-3.0M646.64 335.6v3.0" stroke="#222" stroke-width="1" fill="none"/>
<text transform="translate(368,352.6) scale(1.06,1)" font-size="12" text-anchor="end">20</text>
<text transform="translate(368,369.75) scale(1.06,1)" font-size="12" text-anchor="end">10</text>
<text transform="translate(368,386.9) scale(1.06,1)" font-size="12" text-anchor="end">0</text>
<text transform="translate(368,404.05) scale(1.06,1)" font-size="12" text-anchor="end">−10</text>
<text transform="translate(371.8,423.4) scale(1.06,1)" font-size="12" text-anchor="middle">0</text>
<text transform="translate(463.41,423.4) scale(1.06,1)" font-size="12" text-anchor="middle">500</text>
<text transform="translate(555.03,423.4) scale(1.06,1)" font-size="12" text-anchor="middle">1000</text>
<text transform="translate(646.64,423.4) scale(1.06,1)" font-size="12" text-anchor="middle">1500</text>
<text transform="translate(361.05,447.7) scale(1.072,1)" font-size="19" text-anchor="middle">Time [BJD −2454900]</text>
<text transform="translate(14.2,202.7) rotate(-90) scale(1,1.06)" font-size="18.7" text-anchor="middle">O−C [min]</text>
</svg>
</body></html>
